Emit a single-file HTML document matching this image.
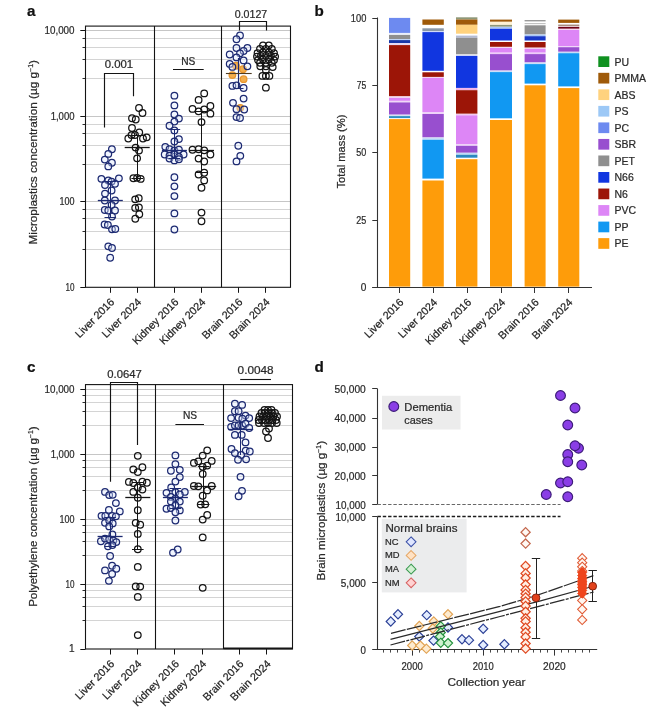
<!DOCTYPE html>
<html><head><meta charset="utf-8"><title>Figure</title>
<style>html,body{margin:0;padding:0;background:#fff}svg{display:block}text{font-family:"Liberation Sans", Arial, sans-serif}</style>
</head><body>
<svg width="660" height="721" viewBox="0 0 660 721">
<rect width="660" height="721" fill="#fff"/>
<g>
<line x1="85.50" y1="30.50" x2="290.50" y2="30.50" stroke="#c6c6c6" stroke-width="1" />
<line x1="85.50" y1="38.50" x2="290.50" y2="38.50" stroke="#d4d4d4" stroke-width="1" />
<line x1="85.50" y1="47.50" x2="290.50" y2="47.50" stroke="#d4d4d4" stroke-width="1" />
<line x1="85.50" y1="59.50" x2="290.50" y2="59.50" stroke="#d4d4d4" stroke-width="1" />
<line x1="85.50" y1="78.50" x2="290.50" y2="78.50" stroke="#d4d4d4" stroke-width="1" />
<line x1="85.50" y1="116.50" x2="290.50" y2="116.50" stroke="#c6c6c6" stroke-width="1" />
<line x1="85.50" y1="124.50" x2="290.50" y2="124.50" stroke="#d4d4d4" stroke-width="1" />
<line x1="85.50" y1="133.50" x2="290.50" y2="133.50" stroke="#d4d4d4" stroke-width="1" />
<line x1="85.50" y1="145.50" x2="290.50" y2="145.50" stroke="#d4d4d4" stroke-width="1" />
<line x1="85.50" y1="164.50" x2="290.50" y2="164.50" stroke="#d4d4d4" stroke-width="1" />
<line x1="85.50" y1="201.50" x2="290.50" y2="201.50" stroke="#c6c6c6" stroke-width="1" />
<line x1="85.50" y1="209.50" x2="290.50" y2="209.50" stroke="#d4d4d4" stroke-width="1" />
<line x1="85.50" y1="218.50" x2="290.50" y2="218.50" stroke="#d4d4d4" stroke-width="1" />
<line x1="85.50" y1="231.50" x2="290.50" y2="231.50" stroke="#d4d4d4" stroke-width="1" />
<line x1="85.50" y1="249.50" x2="290.50" y2="249.50" stroke="#d4d4d4" stroke-width="1" />
<rect x="85.5" y="26.1" width="205.0" height="261.2" fill="none" stroke="#141414" stroke-width="1.1"/>
<line x1="154.50" y1="26.10" x2="154.50" y2="287.30" stroke="#141414" stroke-width="1.1" />
<line x1="221.50" y1="26.10" x2="221.50" y2="287.30" stroke="#141414" stroke-width="1.1" />
<line x1="80.30" y1="30.50" x2="85.50" y2="30.50" stroke="#141414" stroke-width="1" />
<text x="74.50" y="33.70" font-size="10.0" text-anchor="end" fill="#2a2a2a" font-weight="normal" stroke="#2a2a2a" stroke-width="0.22" textLength="30" lengthAdjust="spacingAndGlyphs" >10,000</text>
<line x1="82.50" y1="38.50" x2="85.50" y2="38.50" stroke="#141414" stroke-width="0.9" />
<line x1="82.50" y1="47.50" x2="85.50" y2="47.50" stroke="#141414" stroke-width="0.9" />
<line x1="82.50" y1="59.50" x2="85.50" y2="59.50" stroke="#141414" stroke-width="0.9" />
<line x1="82.50" y1="78.50" x2="85.50" y2="78.50" stroke="#141414" stroke-width="0.9" />
<line x1="80.30" y1="116.50" x2="85.50" y2="116.50" stroke="#141414" stroke-width="1" />
<text x="74.50" y="119.60" font-size="10.0" text-anchor="end" fill="#2a2a2a" font-weight="normal" stroke="#2a2a2a" stroke-width="0.22" textLength="23.8" lengthAdjust="spacingAndGlyphs" >1,000</text>
<line x1="82.50" y1="124.50" x2="85.50" y2="124.50" stroke="#141414" stroke-width="0.9" />
<line x1="82.50" y1="133.50" x2="85.50" y2="133.50" stroke="#141414" stroke-width="0.9" />
<line x1="82.50" y1="145.50" x2="85.50" y2="145.50" stroke="#141414" stroke-width="0.9" />
<line x1="82.50" y1="164.50" x2="85.50" y2="164.50" stroke="#141414" stroke-width="0.9" />
<line x1="80.30" y1="201.50" x2="85.50" y2="201.50" stroke="#141414" stroke-width="1" />
<text x="74.50" y="205.20" font-size="10.0" text-anchor="end" fill="#2a2a2a" font-weight="normal" stroke="#2a2a2a" stroke-width="0.22" textLength="15" lengthAdjust="spacingAndGlyphs" >100</text>
<line x1="82.50" y1="209.50" x2="85.50" y2="209.50" stroke="#141414" stroke-width="0.9" />
<line x1="82.50" y1="218.50" x2="85.50" y2="218.50" stroke="#141414" stroke-width="0.9" />
<line x1="82.50" y1="231.50" x2="85.50" y2="231.50" stroke="#141414" stroke-width="0.9" />
<line x1="82.50" y1="249.50" x2="85.50" y2="249.50" stroke="#141414" stroke-width="0.9" />
<line x1="80.30" y1="287.50" x2="85.50" y2="287.50" stroke="#141414" stroke-width="1" />
<text x="74.50" y="290.60" font-size="10.0" text-anchor="end" fill="#2a2a2a" font-weight="normal" stroke="#2a2a2a" stroke-width="0.22" textLength="9" lengthAdjust="spacingAndGlyphs" >10</text>
<line x1="110.50" y1="287.30" x2="110.50" y2="292.80" stroke="#141414" stroke-width="1" />
<text x="115.10" y="302.80" font-size="10.8" text-anchor="end" fill="#1e1e1e" font-weight="normal" stroke="#1e1e1e" stroke-width="0.22" transform="rotate(-45 115.10 302.80)" >Liver 2016</text>
<line x1="137.50" y1="287.30" x2="137.50" y2="292.80" stroke="#141414" stroke-width="1" />
<text x="142.00" y="302.80" font-size="10.8" text-anchor="end" fill="#1e1e1e" font-weight="normal" stroke="#1e1e1e" stroke-width="0.22" transform="rotate(-45 142.00 302.80)" >Liver 2024</text>
<line x1="174.50" y1="287.30" x2="174.50" y2="292.80" stroke="#141414" stroke-width="1" />
<text x="179.20" y="302.80" font-size="10.8" text-anchor="end" fill="#1e1e1e" font-weight="normal" stroke="#1e1e1e" stroke-width="0.22" transform="rotate(-45 179.20 302.80)" >Kidney 2016</text>
<line x1="201.50" y1="287.30" x2="201.50" y2="292.80" stroke="#141414" stroke-width="1" />
<text x="206.30" y="302.80" font-size="10.8" text-anchor="end" fill="#1e1e1e" font-weight="normal" stroke="#1e1e1e" stroke-width="0.22" transform="rotate(-45 206.30 302.80)" >Kidney 2024</text>
<line x1="238.50" y1="287.30" x2="238.50" y2="292.80" stroke="#141414" stroke-width="1" />
<text x="243.20" y="302.80" font-size="10.8" text-anchor="end" fill="#1e1e1e" font-weight="normal" stroke="#1e1e1e" stroke-width="0.22" transform="rotate(-45 243.20 302.80)" >Brain 2016</text>
<line x1="265.50" y1="287.30" x2="265.50" y2="292.80" stroke="#141414" stroke-width="1" />
<text x="270.40" y="302.80" font-size="10.8" text-anchor="end" fill="#1e1e1e" font-weight="normal" stroke="#1e1e1e" stroke-width="0.22" transform="rotate(-45 270.40 302.80)" >Brain 2024</text>
<text x="27.00" y="15.50" font-size="15.2" text-anchor="start" fill="#111" font-weight="bold" stroke="#111" stroke-width="0.22" >a</text>
<text x="37.00" y="152.20" font-size="11" text-anchor="middle" fill="#2a2a2a" font-weight="normal" stroke="#2a2a2a" stroke-width="0.22" transform="rotate(-90 37.00 152.20)" textLength="184.5" lengthAdjust="spacingAndGlyphs" >Microplastics concentration (µg g<tspan font-size="6.5" dy="-3.6">−1</tspan><tspan dy="3.6">)</tspan></text>
<text x="118.90" y="68.30" font-size="10.2" text-anchor="middle" fill="#2a2a2a" font-weight="normal" stroke="#2a2a2a" stroke-width="0.22" textLength="28.5" lengthAdjust="spacingAndGlyphs" >0.001</text>
<path d="M104.5 127.5V73.5H133.5V96.3" fill="none" stroke="#141414" stroke-width="1.15"/>
<text x="188.30" y="64.50" font-size="10.2" text-anchor="middle" fill="#2a2a2a" font-weight="normal" stroke="#2a2a2a" stroke-width="0.22" >NS</text>
<line x1="173.00" y1="69.50" x2="203.70" y2="69.50" stroke="#141414" stroke-width="1" />
<text x="251.00" y="17.50" font-size="10.2" text-anchor="middle" fill="#2a2a2a" font-weight="normal" stroke="#2a2a2a" stroke-width="0.22" textLength="32.5" lengthAdjust="spacingAndGlyphs" >0.0127</text>
<path d="M239.5 30.6V21.5H266.5V30.6" fill="none" stroke="#141414" stroke-width="1.15"/>
<circle cx="111.90" cy="149.20" r="3.3" fill="#dfe8ff" fill-opacity="0.4" stroke="#1d2a72" stroke-width="1.25"/>
<circle cx="108.30" cy="153.90" r="3.3" fill="#dfe8ff" fill-opacity="0.4" stroke="#1d2a72" stroke-width="1.25"/>
<circle cx="104.80" cy="159.60" r="3.3" fill="#dfe8ff" fill-opacity="0.4" stroke="#1d2a72" stroke-width="1.25"/>
<circle cx="111.90" cy="162.70" r="3.3" fill="#dfe8ff" fill-opacity="0.4" stroke="#1d2a72" stroke-width="1.25"/>
<circle cx="108.30" cy="166.40" r="3.3" fill="#dfe8ff" fill-opacity="0.4" stroke="#1d2a72" stroke-width="1.25"/>
<circle cx="101.40" cy="178.80" r="3.3" fill="#dfe8ff" fill-opacity="0.4" stroke="#1d2a72" stroke-width="1.25"/>
<circle cx="118.90" cy="178.30" r="3.3" fill="#dfe8ff" fill-opacity="0.4" stroke="#1d2a72" stroke-width="1.25"/>
<circle cx="108.30" cy="180.50" r="3.3" fill="#dfe8ff" fill-opacity="0.4" stroke="#1d2a72" stroke-width="1.25"/>
<circle cx="111.60" cy="181.60" r="3.3" fill="#dfe8ff" fill-opacity="0.4" stroke="#1d2a72" stroke-width="1.25"/>
<circle cx="115.00" cy="183.80" r="3.3" fill="#dfe8ff" fill-opacity="0.4" stroke="#1d2a72" stroke-width="1.25"/>
<circle cx="105.00" cy="185.00" r="3.3" fill="#dfe8ff" fill-opacity="0.4" stroke="#1d2a72" stroke-width="1.25"/>
<circle cx="111.60" cy="190.50" r="3.3" fill="#dfe8ff" fill-opacity="0.4" stroke="#1d2a72" stroke-width="1.25"/>
<circle cx="105.00" cy="193.60" r="3.3" fill="#dfe8ff" fill-opacity="0.4" stroke="#1d2a72" stroke-width="1.25"/>
<circle cx="104.80" cy="200.50" r="3.3" fill="#dfe8ff" fill-opacity="0.4" stroke="#1d2a72" stroke-width="1.25"/>
<circle cx="115.00" cy="200.50" r="3.3" fill="#dfe8ff" fill-opacity="0.4" stroke="#1d2a72" stroke-width="1.25"/>
<circle cx="111.60" cy="205.00" r="3.3" fill="#dfe8ff" fill-opacity="0.4" stroke="#1d2a72" stroke-width="1.25"/>
<circle cx="104.80" cy="210.00" r="3.3" fill="#dfe8ff" fill-opacity="0.4" stroke="#1d2a72" stroke-width="1.25"/>
<circle cx="115.00" cy="210.50" r="3.3" fill="#dfe8ff" fill-opacity="0.4" stroke="#1d2a72" stroke-width="1.25"/>
<circle cx="108.30" cy="210.50" r="3.3" fill="#dfe8ff" fill-opacity="0.4" stroke="#1d2a72" stroke-width="1.25"/>
<circle cx="112.00" cy="216.50" r="3.3" fill="#dfe8ff" fill-opacity="0.4" stroke="#1d2a72" stroke-width="1.25"/>
<circle cx="104.60" cy="224.50" r="3.3" fill="#dfe8ff" fill-opacity="0.4" stroke="#1d2a72" stroke-width="1.25"/>
<circle cx="107.90" cy="225.00" r="3.3" fill="#dfe8ff" fill-opacity="0.4" stroke="#1d2a72" stroke-width="1.25"/>
<circle cx="112.00" cy="229.30" r="3.3" fill="#dfe8ff" fill-opacity="0.4" stroke="#1d2a72" stroke-width="1.25"/>
<circle cx="115.30" cy="229.00" r="3.3" fill="#dfe8ff" fill-opacity="0.4" stroke="#1d2a72" stroke-width="1.25"/>
<circle cx="108.30" cy="246.30" r="3.3" fill="#dfe8ff" fill-opacity="0.4" stroke="#1d2a72" stroke-width="1.25"/>
<circle cx="112.00" cy="248.00" r="3.3" fill="#dfe8ff" fill-opacity="0.4" stroke="#1d2a72" stroke-width="1.25"/>
<circle cx="110.20" cy="257.70" r="3.3" fill="#dfe8ff" fill-opacity="0.4" stroke="#1d2a72" stroke-width="1.25"/>
<line x1="110.50" y1="181.30" x2="110.50" y2="217.50" stroke="#1d2a72" stroke-width="1" />
<line x1="104.50" y1="181.50" x2="116.10" y2="181.50" stroke="#1d2a72" stroke-width="1" />
<line x1="104.50" y1="217.50" x2="116.10" y2="217.50" stroke="#1d2a72" stroke-width="1" />
<line x1="97.80" y1="200.50" x2="122.80" y2="200.50" stroke="#1d2a72" stroke-width="1.3" />
<circle cx="139.00" cy="108.00" r="3.3" fill="none" stroke="#141414" stroke-width="1.25"/>
<circle cx="142.50" cy="113.00" r="3.3" fill="none" stroke="#141414" stroke-width="1.25"/>
<circle cx="132.00" cy="118.25" r="3.3" fill="none" stroke="#141414" stroke-width="1.25"/>
<circle cx="135.75" cy="119.50" r="3.3" fill="none" stroke="#141414" stroke-width="1.25"/>
<circle cx="132.00" cy="128.00" r="3.3" fill="none" stroke="#141414" stroke-width="1.25"/>
<circle cx="139.25" cy="132.50" r="3.3" fill="none" stroke="#141414" stroke-width="1.25"/>
<circle cx="135.00" cy="135.00" r="3.3" fill="none" stroke="#141414" stroke-width="1.25"/>
<circle cx="131.50" cy="135.10" r="3.3" fill="none" stroke="#141414" stroke-width="1.25"/>
<circle cx="128.30" cy="138.50" r="3.3" fill="none" stroke="#141414" stroke-width="1.25"/>
<circle cx="143.00" cy="138.50" r="3.3" fill="none" stroke="#141414" stroke-width="1.25"/>
<circle cx="146.70" cy="137.30" r="3.3" fill="none" stroke="#141414" stroke-width="1.25"/>
<circle cx="135.60" cy="147.60" r="3.3" fill="none" stroke="#141414" stroke-width="1.25"/>
<circle cx="139.00" cy="150.60" r="3.3" fill="none" stroke="#141414" stroke-width="1.25"/>
<circle cx="137.10" cy="158.30" r="3.3" fill="none" stroke="#141414" stroke-width="1.25"/>
<circle cx="133.40" cy="178.20" r="3.3" fill="none" stroke="#141414" stroke-width="1.25"/>
<circle cx="137.10" cy="177.80" r="3.3" fill="none" stroke="#141414" stroke-width="1.25"/>
<circle cx="140.70" cy="178.90" r="3.3" fill="none" stroke="#141414" stroke-width="1.25"/>
<circle cx="138.75" cy="198.20" r="3.3" fill="none" stroke="#141414" stroke-width="1.25"/>
<circle cx="135.20" cy="199.30" r="3.3" fill="none" stroke="#141414" stroke-width="1.25"/>
<circle cx="138.90" cy="207.30" r="3.3" fill="none" stroke="#141414" stroke-width="1.25"/>
<circle cx="135.20" cy="207.90" r="3.3" fill="none" stroke="#141414" stroke-width="1.25"/>
<circle cx="139.30" cy="214.20" r="3.3" fill="none" stroke="#141414" stroke-width="1.25"/>
<circle cx="135.30" cy="218.75" r="3.3" fill="none" stroke="#141414" stroke-width="1.25"/>
<line x1="137.50" y1="135.00" x2="137.50" y2="178.30" stroke="#141414" stroke-width="1" />
<line x1="131.40" y1="135.50" x2="143.00" y2="135.50" stroke="#141414" stroke-width="1" />
<line x1="131.40" y1="178.50" x2="143.00" y2="178.50" stroke="#141414" stroke-width="1" />
<line x1="124.70" y1="147.50" x2="149.70" y2="147.50" stroke="#141414" stroke-width="1.3" />
<circle cx="174.40" cy="95.70" r="3.3" fill="#dfe8ff" fill-opacity="0.4" stroke="#1d2a72" stroke-width="1.25"/>
<circle cx="174.40" cy="105.40" r="3.3" fill="#dfe8ff" fill-opacity="0.4" stroke="#1d2a72" stroke-width="1.25"/>
<circle cx="174.40" cy="114.50" r="3.3" fill="#dfe8ff" fill-opacity="0.4" stroke="#1d2a72" stroke-width="1.25"/>
<circle cx="178.90" cy="118.60" r="3.3" fill="#dfe8ff" fill-opacity="0.4" stroke="#1d2a72" stroke-width="1.25"/>
<circle cx="174.40" cy="121.60" r="3.3" fill="#dfe8ff" fill-opacity="0.4" stroke="#1d2a72" stroke-width="1.25"/>
<circle cx="169.50" cy="125.70" r="3.3" fill="#dfe8ff" fill-opacity="0.4" stroke="#1d2a72" stroke-width="1.25"/>
<circle cx="174.40" cy="130.40" r="3.3" fill="#dfe8ff" fill-opacity="0.4" stroke="#1d2a72" stroke-width="1.25"/>
<circle cx="178.90" cy="139.10" r="3.3" fill="#dfe8ff" fill-opacity="0.4" stroke="#1d2a72" stroke-width="1.25"/>
<circle cx="174.40" cy="141.50" r="3.3" fill="#dfe8ff" fill-opacity="0.4" stroke="#1d2a72" stroke-width="1.25"/>
<circle cx="165.30" cy="146.80" r="3.3" fill="#dfe8ff" fill-opacity="0.4" stroke="#1d2a72" stroke-width="1.25"/>
<circle cx="169.50" cy="149.20" r="3.3" fill="#dfe8ff" fill-opacity="0.4" stroke="#1d2a72" stroke-width="1.25"/>
<circle cx="174.40" cy="150.30" r="3.3" fill="#dfe8ff" fill-opacity="0.4" stroke="#1d2a72" stroke-width="1.25"/>
<circle cx="178.90" cy="149.70" r="3.3" fill="#dfe8ff" fill-opacity="0.4" stroke="#1d2a72" stroke-width="1.25"/>
<circle cx="183.60" cy="154.50" r="3.3" fill="#dfe8ff" fill-opacity="0.4" stroke="#1d2a72" stroke-width="1.25"/>
<circle cx="164.70" cy="154.50" r="3.3" fill="#dfe8ff" fill-opacity="0.4" stroke="#1d2a72" stroke-width="1.25"/>
<circle cx="169.50" cy="155.60" r="3.3" fill="#dfe8ff" fill-opacity="0.4" stroke="#1d2a72" stroke-width="1.25"/>
<circle cx="174.40" cy="154.50" r="3.3" fill="#dfe8ff" fill-opacity="0.4" stroke="#1d2a72" stroke-width="1.25"/>
<circle cx="178.90" cy="156.80" r="3.3" fill="#dfe8ff" fill-opacity="0.4" stroke="#1d2a72" stroke-width="1.25"/>
<circle cx="169.50" cy="158.60" r="3.3" fill="#dfe8ff" fill-opacity="0.4" stroke="#1d2a72" stroke-width="1.25"/>
<circle cx="174.40" cy="160.40" r="3.3" fill="#dfe8ff" fill-opacity="0.4" stroke="#1d2a72" stroke-width="1.25"/>
<circle cx="178.90" cy="159.20" r="3.3" fill="#dfe8ff" fill-opacity="0.4" stroke="#1d2a72" stroke-width="1.25"/>
<circle cx="174.40" cy="177.20" r="3.3" fill="#dfe8ff" fill-opacity="0.4" stroke="#1d2a72" stroke-width="1.25"/>
<circle cx="174.40" cy="186.30" r="3.3" fill="#dfe8ff" fill-opacity="0.4" stroke="#1d2a72" stroke-width="1.25"/>
<circle cx="174.40" cy="196.10" r="3.3" fill="#dfe8ff" fill-opacity="0.4" stroke="#1d2a72" stroke-width="1.25"/>
<circle cx="174.40" cy="213.40" r="3.3" fill="#dfe8ff" fill-opacity="0.4" stroke="#1d2a72" stroke-width="1.25"/>
<circle cx="174.40" cy="229.50" r="3.3" fill="#dfe8ff" fill-opacity="0.4" stroke="#1d2a72" stroke-width="1.25"/>
<line x1="174.50" y1="129.80" x2="174.50" y2="158.50" stroke="#1d2a72" stroke-width="1" />
<line x1="168.60" y1="129.50" x2="180.20" y2="129.50" stroke="#1d2a72" stroke-width="1" />
<line x1="168.60" y1="158.50" x2="180.20" y2="158.50" stroke="#1d2a72" stroke-width="1" />
<line x1="161.90" y1="150.50" x2="186.90" y2="150.50" stroke="#1d2a72" stroke-width="1.3" />
<circle cx="204.20" cy="93.40" r="3.3" fill="none" stroke="#141414" stroke-width="1.25"/>
<circle cx="198.60" cy="99.90" r="3.3" fill="none" stroke="#141414" stroke-width="1.25"/>
<circle cx="210.40" cy="106.00" r="3.3" fill="none" stroke="#141414" stroke-width="1.25"/>
<circle cx="192.50" cy="108.90" r="3.3" fill="none" stroke="#141414" stroke-width="1.25"/>
<circle cx="198.60" cy="111.30" r="3.3" fill="none" stroke="#141414" stroke-width="1.25"/>
<circle cx="204.20" cy="109.50" r="3.3" fill="none" stroke="#141414" stroke-width="1.25"/>
<circle cx="210.40" cy="113.70" r="3.3" fill="none" stroke="#141414" stroke-width="1.25"/>
<circle cx="201.50" cy="122.10" r="3.3" fill="none" stroke="#141414" stroke-width="1.25"/>
<circle cx="192.50" cy="149.70" r="3.3" fill="none" stroke="#141414" stroke-width="1.25"/>
<circle cx="198.60" cy="149.20" r="3.3" fill="none" stroke="#141414" stroke-width="1.25"/>
<circle cx="204.20" cy="150.30" r="3.3" fill="none" stroke="#141414" stroke-width="1.25"/>
<circle cx="210.40" cy="154.50" r="3.3" fill="none" stroke="#141414" stroke-width="1.25"/>
<circle cx="198.60" cy="158.60" r="3.3" fill="none" stroke="#141414" stroke-width="1.25"/>
<circle cx="204.20" cy="161.50" r="3.3" fill="none" stroke="#141414" stroke-width="1.25"/>
<circle cx="204.20" cy="172.70" r="3.3" fill="none" stroke="#141414" stroke-width="1.25"/>
<circle cx="198.60" cy="174.50" r="3.3" fill="none" stroke="#141414" stroke-width="1.25"/>
<circle cx="204.20" cy="180.40" r="3.3" fill="none" stroke="#141414" stroke-width="1.25"/>
<circle cx="201.50" cy="187.70" r="3.3" fill="none" stroke="#141414" stroke-width="1.25"/>
<circle cx="201.50" cy="212.60" r="3.3" fill="none" stroke="#141414" stroke-width="1.25"/>
<circle cx="201.50" cy="221.20" r="3.3" fill="none" stroke="#141414" stroke-width="1.25"/>
<line x1="201.50" y1="111.30" x2="201.50" y2="172.70" stroke="#141414" stroke-width="1" />
<line x1="195.70" y1="111.50" x2="207.30" y2="111.50" stroke="#141414" stroke-width="1" />
<line x1="195.70" y1="172.50" x2="207.30" y2="172.50" stroke="#141414" stroke-width="1" />
<line x1="189.00" y1="150.50" x2="214.00" y2="150.50" stroke="#141414" stroke-width="1.3" />
<circle cx="235.90" cy="65.70" r="3.3" fill="#f4ae4c" stroke="#e8962e" stroke-width="1.25"/>
<circle cx="243.00" cy="69.20" r="3.3" fill="#f4ae4c" stroke="#e8962e" stroke-width="1.25"/>
<circle cx="232.40" cy="75.10" r="3.3" fill="#f4ae4c" stroke="#e8962e" stroke-width="1.25"/>
<circle cx="243.60" cy="79.20" r="3.3" fill="#f4ae4c" stroke="#e8962e" stroke-width="1.25"/>
<circle cx="240.30" cy="107.80" r="3.3" fill="#f4ae4c" stroke="#e8962e" stroke-width="1.25"/>
<circle cx="240.00" cy="35.40" r="3.3" fill="#dfe8ff" fill-opacity="0.4" stroke="#1d2a72" stroke-width="1.25"/>
<circle cx="236.50" cy="39.20" r="3.3" fill="#dfe8ff" fill-opacity="0.4" stroke="#1d2a72" stroke-width="1.25"/>
<circle cx="236.50" cy="48.00" r="3.3" fill="#dfe8ff" fill-opacity="0.4" stroke="#1d2a72" stroke-width="1.25"/>
<circle cx="247.40" cy="48.00" r="3.3" fill="#dfe8ff" fill-opacity="0.4" stroke="#1d2a72" stroke-width="1.25"/>
<circle cx="243.60" cy="51.00" r="3.3" fill="#dfe8ff" fill-opacity="0.4" stroke="#1d2a72" stroke-width="1.25"/>
<circle cx="229.70" cy="54.50" r="3.3" fill="#dfe8ff" fill-opacity="0.4" stroke="#1d2a72" stroke-width="1.25"/>
<circle cx="240.00" cy="53.30" r="3.3" fill="#dfe8ff" fill-opacity="0.4" stroke="#1d2a72" stroke-width="1.25"/>
<circle cx="236.50" cy="57.40" r="3.3" fill="#dfe8ff" fill-opacity="0.4" stroke="#1d2a72" stroke-width="1.25"/>
<circle cx="243.60" cy="60.40" r="3.3" fill="#dfe8ff" fill-opacity="0.4" stroke="#1d2a72" stroke-width="1.25"/>
<circle cx="229.70" cy="63.90" r="3.3" fill="#dfe8ff" fill-opacity="0.4" stroke="#1d2a72" stroke-width="1.25"/>
<circle cx="247.40" cy="66.30" r="3.3" fill="#dfe8ff" fill-opacity="0.4" stroke="#1d2a72" stroke-width="1.25"/>
<circle cx="232.40" cy="66.90" r="3.3" fill="#dfe8ff" fill-opacity="0.4" stroke="#1d2a72" stroke-width="1.25"/>
<circle cx="232.40" cy="85.90" r="3.3" fill="#dfe8ff" fill-opacity="0.4" stroke="#1d2a72" stroke-width="1.25"/>
<circle cx="236.50" cy="85.30" r="3.3" fill="#dfe8ff" fill-opacity="0.4" stroke="#1d2a72" stroke-width="1.25"/>
<circle cx="243.60" cy="88.00" r="3.3" fill="#dfe8ff" fill-opacity="0.4" stroke="#1d2a72" stroke-width="1.25"/>
<circle cx="243.60" cy="98.60" r="3.3" fill="#dfe8ff" fill-opacity="0.4" stroke="#1d2a72" stroke-width="1.25"/>
<circle cx="233.00" cy="102.80" r="3.3" fill="#dfe8ff" fill-opacity="0.4" stroke="#1d2a72" stroke-width="1.25"/>
<circle cx="236.50" cy="109.20" r="3.3" fill="#dfe8ff" fill-opacity="0.4" stroke="#1d2a72" stroke-width="1.25"/>
<circle cx="244.20" cy="109.50" r="3.3" fill="#dfe8ff" fill-opacity="0.4" stroke="#1d2a72" stroke-width="1.25"/>
<circle cx="236.50" cy="117.10" r="3.3" fill="#dfe8ff" fill-opacity="0.4" stroke="#1d2a72" stroke-width="1.25"/>
<circle cx="240.00" cy="118.00" r="3.3" fill="#dfe8ff" fill-opacity="0.4" stroke="#1d2a72" stroke-width="1.25"/>
<circle cx="238.30" cy="145.70" r="3.3" fill="#dfe8ff" fill-opacity="0.4" stroke="#1d2a72" stroke-width="1.25"/>
<circle cx="240.30" cy="155.80" r="3.3" fill="#dfe8ff" fill-opacity="0.4" stroke="#1d2a72" stroke-width="1.25"/>
<circle cx="236.50" cy="161.40" r="3.3" fill="#dfe8ff" fill-opacity="0.4" stroke="#1d2a72" stroke-width="1.25"/>
<line x1="238.50" y1="58.00" x2="238.50" y2="88.00" stroke="#1d2a72" stroke-width="1.2" />
<line x1="225.90" y1="73.50" x2="251.70" y2="73.50" stroke="#4e3b22" stroke-width="1.1" />
<line x1="234.00" y1="88.50" x2="243.50" y2="88.50" stroke="#1d2a72" stroke-width="1" />
<circle cx="263.00" cy="45.30" r="3.3" fill="none" stroke="#141414" stroke-width="1.25"/>
<circle cx="268.80" cy="45.30" r="3.3" fill="none" stroke="#141414" stroke-width="1.25"/>
<circle cx="260.00" cy="48.80" r="3.3" fill="none" stroke="#141414" stroke-width="1.25"/>
<circle cx="265.90" cy="48.80" r="3.3" fill="none" stroke="#141414" stroke-width="1.25"/>
<circle cx="271.80" cy="48.80" r="3.3" fill="none" stroke="#141414" stroke-width="1.25"/>
<circle cx="257.50" cy="53.10" r="3.3" fill="none" stroke="#141414" stroke-width="1.25"/>
<circle cx="263.00" cy="52.30" r="3.3" fill="none" stroke="#141414" stroke-width="1.25"/>
<circle cx="268.80" cy="52.30" r="3.3" fill="none" stroke="#141414" stroke-width="1.25"/>
<circle cx="274.00" cy="53.10" r="3.3" fill="none" stroke="#141414" stroke-width="1.25"/>
<circle cx="257.00" cy="56.60" r="3.3" fill="none" stroke="#141414" stroke-width="1.25"/>
<circle cx="260.90" cy="55.80" r="3.3" fill="none" stroke="#141414" stroke-width="1.25"/>
<circle cx="265.90" cy="55.80" r="3.3" fill="none" stroke="#141414" stroke-width="1.25"/>
<circle cx="270.90" cy="55.80" r="3.3" fill="none" stroke="#141414" stroke-width="1.25"/>
<circle cx="275.10" cy="56.60" r="3.3" fill="none" stroke="#141414" stroke-width="1.25"/>
<circle cx="258.00" cy="60.10" r="3.3" fill="none" stroke="#141414" stroke-width="1.25"/>
<circle cx="263.00" cy="59.30" r="3.3" fill="none" stroke="#141414" stroke-width="1.25"/>
<circle cx="268.80" cy="59.30" r="3.3" fill="none" stroke="#141414" stroke-width="1.25"/>
<circle cx="274.00" cy="60.10" r="3.3" fill="none" stroke="#141414" stroke-width="1.25"/>
<circle cx="260.00" cy="62.80" r="3.3" fill="none" stroke="#141414" stroke-width="1.25"/>
<circle cx="265.90" cy="62.80" r="3.3" fill="none" stroke="#141414" stroke-width="1.25"/>
<circle cx="271.80" cy="62.80" r="3.3" fill="none" stroke="#141414" stroke-width="1.25"/>
<circle cx="260.30" cy="66.30" r="3.3" fill="none" stroke="#141414" stroke-width="1.25"/>
<circle cx="265.90" cy="66.30" r="3.3" fill="none" stroke="#141414" stroke-width="1.25"/>
<circle cx="272.70" cy="67.10" r="3.3" fill="none" stroke="#141414" stroke-width="1.25"/>
<circle cx="265.90" cy="70.00" r="3.3" fill="none" stroke="#141414" stroke-width="1.25"/>
<circle cx="262.40" cy="75.90" r="3.3" fill="none" stroke="#141414" stroke-width="1.25"/>
<circle cx="265.90" cy="75.90" r="3.3" fill="none" stroke="#141414" stroke-width="1.25"/>
<circle cx="269.40" cy="75.90" r="3.3" fill="none" stroke="#141414" stroke-width="1.25"/>
<circle cx="265.90" cy="87.70" r="3.3" fill="none" stroke="#141414" stroke-width="1.25"/>
</g>
<g>
<line x1="85.50" y1="389.50" x2="292.50" y2="389.50" stroke="#c6c6c6" stroke-width="1" />
<line x1="85.50" y1="395.50" x2="292.50" y2="395.50" stroke="#d4d4d4" stroke-width="1" />
<line x1="85.50" y1="402.50" x2="292.50" y2="402.50" stroke="#d4d4d4" stroke-width="1" />
<line x1="85.50" y1="411.50" x2="292.50" y2="411.50" stroke="#d4d4d4" stroke-width="1" />
<line x1="85.50" y1="425.50" x2="292.50" y2="425.50" stroke="#d4d4d4" stroke-width="1" />
<line x1="85.50" y1="454.50" x2="292.50" y2="454.50" stroke="#c6c6c6" stroke-width="1" />
<line x1="85.50" y1="460.50" x2="292.50" y2="460.50" stroke="#d4d4d4" stroke-width="1" />
<line x1="85.50" y1="467.50" x2="292.50" y2="467.50" stroke="#d4d4d4" stroke-width="1" />
<line x1="85.50" y1="476.50" x2="292.50" y2="476.50" stroke="#d4d4d4" stroke-width="1" />
<line x1="85.50" y1="490.50" x2="292.50" y2="490.50" stroke="#d4d4d4" stroke-width="1" />
<line x1="85.50" y1="519.50" x2="292.50" y2="519.50" stroke="#c6c6c6" stroke-width="1" />
<line x1="85.50" y1="525.50" x2="292.50" y2="525.50" stroke="#d4d4d4" stroke-width="1" />
<line x1="85.50" y1="532.50" x2="292.50" y2="532.50" stroke="#d4d4d4" stroke-width="1" />
<line x1="85.50" y1="541.50" x2="292.50" y2="541.50" stroke="#d4d4d4" stroke-width="1" />
<line x1="85.50" y1="555.50" x2="292.50" y2="555.50" stroke="#d4d4d4" stroke-width="1" />
<line x1="85.50" y1="584.50" x2="292.50" y2="584.50" stroke="#c6c6c6" stroke-width="1" />
<line x1="85.50" y1="590.50" x2="292.50" y2="590.50" stroke="#d4d4d4" stroke-width="1" />
<line x1="85.50" y1="597.50" x2="292.50" y2="597.50" stroke="#d4d4d4" stroke-width="1" />
<line x1="85.50" y1="606.50" x2="292.50" y2="606.50" stroke="#d4d4d4" stroke-width="1" />
<line x1="85.50" y1="620.50" x2="292.50" y2="620.50" stroke="#d4d4d4" stroke-width="1" />
<rect x="85.5" y="384.6" width="207.0" height="264.4" fill="none" stroke="#141414" stroke-width="1.1"/>
<line x1="155.50" y1="384.60" x2="155.50" y2="649.00" stroke="#141414" stroke-width="1.1" />
<line x1="223.50" y1="384.60" x2="223.50" y2="649.00" stroke="#141414" stroke-width="1.1" />
<line x1="80.30" y1="389.50" x2="85.50" y2="389.50" stroke="#141414" stroke-width="1" />
<text x="74.50" y="392.90" font-size="10.0" text-anchor="end" fill="#2a2a2a" font-weight="normal" stroke="#2a2a2a" stroke-width="0.22" textLength="30" lengthAdjust="spacingAndGlyphs" >10,000</text>
<line x1="82.50" y1="395.50" x2="85.50" y2="395.50" stroke="#141414" stroke-width="0.9" />
<line x1="82.50" y1="402.50" x2="85.50" y2="402.50" stroke="#141414" stroke-width="0.9" />
<line x1="82.50" y1="411.50" x2="85.50" y2="411.50" stroke="#141414" stroke-width="0.9" />
<line x1="82.50" y1="425.50" x2="85.50" y2="425.50" stroke="#141414" stroke-width="0.9" />
<line x1="80.30" y1="454.50" x2="85.50" y2="454.50" stroke="#141414" stroke-width="1" />
<text x="74.50" y="457.70" font-size="10.0" text-anchor="end" fill="#2a2a2a" font-weight="normal" stroke="#2a2a2a" stroke-width="0.22" textLength="23.8" lengthAdjust="spacingAndGlyphs" >1,000</text>
<line x1="82.50" y1="460.50" x2="85.50" y2="460.50" stroke="#141414" stroke-width="0.9" />
<line x1="82.50" y1="467.50" x2="85.50" y2="467.50" stroke="#141414" stroke-width="0.9" />
<line x1="82.50" y1="476.50" x2="85.50" y2="476.50" stroke="#141414" stroke-width="0.9" />
<line x1="82.50" y1="490.50" x2="85.50" y2="490.50" stroke="#141414" stroke-width="0.9" />
<line x1="80.30" y1="519.50" x2="85.50" y2="519.50" stroke="#141414" stroke-width="1" />
<text x="74.50" y="522.80" font-size="10.0" text-anchor="end" fill="#2a2a2a" font-weight="normal" stroke="#2a2a2a" stroke-width="0.22" textLength="15" lengthAdjust="spacingAndGlyphs" >100</text>
<line x1="82.50" y1="525.50" x2="85.50" y2="525.50" stroke="#141414" stroke-width="0.9" />
<line x1="82.50" y1="532.50" x2="85.50" y2="532.50" stroke="#141414" stroke-width="0.9" />
<line x1="82.50" y1="541.50" x2="85.50" y2="541.50" stroke="#141414" stroke-width="0.9" />
<line x1="82.50" y1="555.50" x2="85.50" y2="555.50" stroke="#141414" stroke-width="0.9" />
<line x1="80.30" y1="584.50" x2="85.50" y2="584.50" stroke="#141414" stroke-width="1" />
<text x="74.50" y="587.60" font-size="10.0" text-anchor="end" fill="#2a2a2a" font-weight="normal" stroke="#2a2a2a" stroke-width="0.22" textLength="9" lengthAdjust="spacingAndGlyphs" >10</text>
<line x1="82.50" y1="590.50" x2="85.50" y2="590.50" stroke="#141414" stroke-width="0.9" />
<line x1="82.50" y1="597.50" x2="85.50" y2="597.50" stroke="#141414" stroke-width="0.9" />
<line x1="82.50" y1="606.50" x2="85.50" y2="606.50" stroke="#141414" stroke-width="0.9" />
<line x1="82.50" y1="620.50" x2="85.50" y2="620.50" stroke="#141414" stroke-width="0.9" />
<line x1="80.30" y1="649.50" x2="85.50" y2="649.50" stroke="#141414" stroke-width="1" />
<text x="74.50" y="652.30" font-size="10.0" text-anchor="end" fill="#2a2a2a" font-weight="normal" stroke="#2a2a2a" stroke-width="0.22" >1</text>
<line x1="110.50" y1="649.00" x2="110.50" y2="654.50" stroke="#141414" stroke-width="1" />
<text x="115.10" y="664.50" font-size="10.8" text-anchor="end" fill="#1e1e1e" font-weight="normal" stroke="#1e1e1e" stroke-width="0.22" transform="rotate(-45 115.10 664.50)" >Liver 2016</text>
<line x1="137.50" y1="649.00" x2="137.50" y2="654.50" stroke="#141414" stroke-width="1" />
<text x="142.30" y="664.50" font-size="10.8" text-anchor="end" fill="#1e1e1e" font-weight="normal" stroke="#1e1e1e" stroke-width="0.22" transform="rotate(-45 142.30 664.50)" >Liver 2024</text>
<line x1="174.50" y1="649.00" x2="174.50" y2="654.50" stroke="#141414" stroke-width="1" />
<text x="179.70" y="664.50" font-size="10.8" text-anchor="end" fill="#1e1e1e" font-weight="normal" stroke="#1e1e1e" stroke-width="0.22" transform="rotate(-45 179.70 664.50)" >Kidney 2016</text>
<line x1="202.50" y1="649.00" x2="202.50" y2="654.50" stroke="#141414" stroke-width="1" />
<text x="207.10" y="664.50" font-size="10.8" text-anchor="end" fill="#1e1e1e" font-weight="normal" stroke="#1e1e1e" stroke-width="0.22" transform="rotate(-45 207.10 664.50)" >Kidney 2024</text>
<line x1="239.50" y1="649.00" x2="239.50" y2="654.50" stroke="#141414" stroke-width="1" />
<text x="244.20" y="664.50" font-size="10.8" text-anchor="end" fill="#1e1e1e" font-weight="normal" stroke="#1e1e1e" stroke-width="0.22" transform="rotate(-45 244.20 664.50)" >Brain 2016</text>
<line x1="266.50" y1="649.00" x2="266.50" y2="654.50" stroke="#141414" stroke-width="1" />
<text x="271.40" y="664.50" font-size="10.8" text-anchor="end" fill="#1e1e1e" font-weight="normal" stroke="#1e1e1e" stroke-width="0.22" transform="rotate(-45 271.40 664.50)" >Brain 2024</text>
<line x1="223.40" y1="648.40" x2="292.50" y2="648.40" stroke="#141414" stroke-width="1.8" />
<text x="27.00" y="372.00" font-size="15.2" text-anchor="start" fill="#111" font-weight="bold" stroke="#111" stroke-width="0.22" >c</text>
<text x="37.00" y="516.60" font-size="11" text-anchor="middle" fill="#2a2a2a" font-weight="normal" stroke="#2a2a2a" stroke-width="0.22" transform="rotate(-90 37.00 516.60)" textLength="180.5" lengthAdjust="spacingAndGlyphs" >Polyethylene concentration (µg g<tspan font-size="6.5" dy="-3.6">−1</tspan><tspan dy="3.6">)</tspan></text>
<text x="124.50" y="377.80" font-size="10.2" text-anchor="middle" fill="#2a2a2a" font-weight="normal" stroke="#2a2a2a" stroke-width="0.22" textLength="34.5" lengthAdjust="spacingAndGlyphs" >0.0647</text>
<path d="M110.5 481.8V382.5H137.5V445" fill="none" stroke="#141414" stroke-width="1.15"/>
<text x="190.00" y="419.20" font-size="10.2" text-anchor="middle" fill="#2a2a2a" font-weight="normal" stroke="#2a2a2a" stroke-width="0.22" >NS</text>
<line x1="175.40" y1="424.50" x2="204.00" y2="424.50" stroke="#141414" stroke-width="1" />
<text x="255.60" y="373.70" font-size="10.2" text-anchor="middle" fill="#2a2a2a" font-weight="normal" stroke="#2a2a2a" stroke-width="0.22" textLength="36" lengthAdjust="spacingAndGlyphs" >0.0048</text>
<line x1="240.20" y1="379.50" x2="271.00" y2="379.50" stroke="#141414" stroke-width="1.1" />
<circle cx="105.00" cy="491.90" r="3.3" fill="#dfe8ff" fill-opacity="0.4" stroke="#1d2a72" stroke-width="1.25"/>
<circle cx="109.20" cy="495.10" r="3.3" fill="#dfe8ff" fill-opacity="0.4" stroke="#1d2a72" stroke-width="1.25"/>
<circle cx="112.70" cy="494.80" r="3.3" fill="#dfe8ff" fill-opacity="0.4" stroke="#1d2a72" stroke-width="1.25"/>
<circle cx="115.90" cy="503.10" r="3.3" fill="#dfe8ff" fill-opacity="0.4" stroke="#1d2a72" stroke-width="1.25"/>
<circle cx="108.90" cy="509.90" r="3.3" fill="#dfe8ff" fill-opacity="0.4" stroke="#1d2a72" stroke-width="1.25"/>
<circle cx="119.80" cy="511.40" r="3.3" fill="#dfe8ff" fill-opacity="0.4" stroke="#1d2a72" stroke-width="1.25"/>
<circle cx="101.50" cy="515.80" r="3.3" fill="#dfe8ff" fill-opacity="0.4" stroke="#1d2a72" stroke-width="1.25"/>
<circle cx="105.30" cy="515.80" r="3.3" fill="#dfe8ff" fill-opacity="0.4" stroke="#1d2a72" stroke-width="1.25"/>
<circle cx="112.10" cy="515.80" r="3.3" fill="#dfe8ff" fill-opacity="0.4" stroke="#1d2a72" stroke-width="1.25"/>
<circle cx="115.90" cy="516.30" r="3.3" fill="#dfe8ff" fill-opacity="0.4" stroke="#1d2a72" stroke-width="1.25"/>
<circle cx="105.00" cy="522.80" r="3.3" fill="#dfe8ff" fill-opacity="0.4" stroke="#1d2a72" stroke-width="1.25"/>
<circle cx="109.20" cy="520.50" r="3.3" fill="#dfe8ff" fill-opacity="0.4" stroke="#1d2a72" stroke-width="1.25"/>
<circle cx="112.70" cy="523.40" r="3.3" fill="#dfe8ff" fill-opacity="0.4" stroke="#1d2a72" stroke-width="1.25"/>
<circle cx="109.20" cy="526.40" r="3.3" fill="#dfe8ff" fill-opacity="0.4" stroke="#1d2a72" stroke-width="1.25"/>
<circle cx="112.40" cy="534.50" r="3.3" fill="#dfe8ff" fill-opacity="0.4" stroke="#1d2a72" stroke-width="1.25"/>
<circle cx="100.90" cy="541.20" r="3.3" fill="#dfe8ff" fill-opacity="0.4" stroke="#1d2a72" stroke-width="1.25"/>
<circle cx="105.00" cy="538.60" r="3.3" fill="#dfe8ff" fill-opacity="0.4" stroke="#1d2a72" stroke-width="1.25"/>
<circle cx="109.20" cy="539.20" r="3.3" fill="#dfe8ff" fill-opacity="0.4" stroke="#1d2a72" stroke-width="1.25"/>
<circle cx="113.30" cy="540.40" r="3.3" fill="#dfe8ff" fill-opacity="0.4" stroke="#1d2a72" stroke-width="1.25"/>
<circle cx="116.30" cy="542.10" r="3.3" fill="#dfe8ff" fill-opacity="0.4" stroke="#1d2a72" stroke-width="1.25"/>
<circle cx="108.00" cy="546.30" r="3.3" fill="#dfe8ff" fill-opacity="0.4" stroke="#1d2a72" stroke-width="1.25"/>
<circle cx="112.40" cy="545.10" r="3.3" fill="#dfe8ff" fill-opacity="0.4" stroke="#1d2a72" stroke-width="1.25"/>
<circle cx="110.10" cy="556.00" r="3.3" fill="#dfe8ff" fill-opacity="0.4" stroke="#1d2a72" stroke-width="1.25"/>
<circle cx="112.10" cy="565.70" r="3.3" fill="#dfe8ff" fill-opacity="0.4" stroke="#1d2a72" stroke-width="1.25"/>
<circle cx="116.30" cy="568.70" r="3.3" fill="#dfe8ff" fill-opacity="0.4" stroke="#1d2a72" stroke-width="1.25"/>
<circle cx="105.00" cy="570.40" r="3.3" fill="#dfe8ff" fill-opacity="0.4" stroke="#1d2a72" stroke-width="1.25"/>
<circle cx="112.10" cy="574.00" r="3.3" fill="#dfe8ff" fill-opacity="0.4" stroke="#1d2a72" stroke-width="1.25"/>
<circle cx="108.90" cy="580.80" r="3.3" fill="#dfe8ff" fill-opacity="0.4" stroke="#1d2a72" stroke-width="1.25"/>
<line x1="110.50" y1="517.00" x2="110.50" y2="546.00" stroke="#1d2a72" stroke-width="1" />
<line x1="104.30" y1="517.50" x2="115.90" y2="517.50" stroke="#1d2a72" stroke-width="1" />
<line x1="104.30" y1="546.50" x2="115.90" y2="546.50" stroke="#1d2a72" stroke-width="1" />
<line x1="97.60" y1="536.50" x2="122.60" y2="536.50" stroke="#1d2a72" stroke-width="1.3" />
<circle cx="137.80" cy="455.80" r="3.3" fill="none" stroke="#141414" stroke-width="1.25"/>
<circle cx="133.30" cy="469.50" r="3.3" fill="none" stroke="#141414" stroke-width="1.25"/>
<circle cx="142.40" cy="467.20" r="3.3" fill="none" stroke="#141414" stroke-width="1.25"/>
<circle cx="137.80" cy="472.10" r="3.3" fill="none" stroke="#141414" stroke-width="1.25"/>
<circle cx="128.90" cy="481.90" r="3.3" fill="none" stroke="#141414" stroke-width="1.25"/>
<circle cx="133.30" cy="483.00" r="3.3" fill="none" stroke="#141414" stroke-width="1.25"/>
<circle cx="142.40" cy="481.60" r="3.3" fill="none" stroke="#141414" stroke-width="1.25"/>
<circle cx="146.90" cy="482.70" r="3.3" fill="none" stroke="#141414" stroke-width="1.25"/>
<circle cx="137.80" cy="487.50" r="3.3" fill="none" stroke="#141414" stroke-width="1.25"/>
<circle cx="133.30" cy="491.90" r="3.3" fill="none" stroke="#141414" stroke-width="1.25"/>
<circle cx="142.40" cy="489.60" r="3.3" fill="none" stroke="#141414" stroke-width="1.25"/>
<circle cx="137.80" cy="497.70" r="3.3" fill="none" stroke="#141414" stroke-width="1.25"/>
<circle cx="137.80" cy="510.20" r="3.3" fill="none" stroke="#141414" stroke-width="1.25"/>
<circle cx="135.70" cy="522.80" r="3.3" fill="none" stroke="#141414" stroke-width="1.25"/>
<circle cx="140.20" cy="524.70" r="3.3" fill="none" stroke="#141414" stroke-width="1.25"/>
<circle cx="137.80" cy="533.90" r="3.3" fill="none" stroke="#141414" stroke-width="1.25"/>
<circle cx="137.80" cy="549.20" r="3.3" fill="none" stroke="#141414" stroke-width="1.25"/>
<circle cx="137.80" cy="566.90" r="3.3" fill="none" stroke="#141414" stroke-width="1.25"/>
<circle cx="135.70" cy="586.50" r="3.3" fill="none" stroke="#141414" stroke-width="1.25"/>
<circle cx="140.20" cy="586.60" r="3.3" fill="none" stroke="#141414" stroke-width="1.25"/>
<circle cx="137.80" cy="596.90" r="3.3" fill="none" stroke="#141414" stroke-width="1.25"/>
<circle cx="137.80" cy="635.10" r="3.3" fill="none" stroke="#141414" stroke-width="1.25"/>
<line x1="137.50" y1="482.70" x2="137.50" y2="549.20" stroke="#141414" stroke-width="1" />
<line x1="132.00" y1="482.50" x2="143.60" y2="482.50" stroke="#141414" stroke-width="1" />
<line x1="132.00" y1="549.50" x2="143.60" y2="549.50" stroke="#141414" stroke-width="1" />
<line x1="125.30" y1="497.50" x2="150.30" y2="497.50" stroke="#141414" stroke-width="1.3" />
<circle cx="175.40" cy="455.40" r="3.3" fill="#dfe8ff" fill-opacity="0.4" stroke="#1d2a72" stroke-width="1.25"/>
<circle cx="175.40" cy="464.10" r="3.3" fill="#dfe8ff" fill-opacity="0.4" stroke="#1d2a72" stroke-width="1.25"/>
<circle cx="170.90" cy="470.70" r="3.3" fill="#dfe8ff" fill-opacity="0.4" stroke="#1d2a72" stroke-width="1.25"/>
<circle cx="179.80" cy="469.80" r="3.3" fill="#dfe8ff" fill-opacity="0.4" stroke="#1d2a72" stroke-width="1.25"/>
<circle cx="179.80" cy="477.10" r="3.3" fill="#dfe8ff" fill-opacity="0.4" stroke="#1d2a72" stroke-width="1.25"/>
<circle cx="175.40" cy="481.60" r="3.3" fill="#dfe8ff" fill-opacity="0.4" stroke="#1d2a72" stroke-width="1.25"/>
<circle cx="171.20" cy="487.50" r="3.3" fill="#dfe8ff" fill-opacity="0.4" stroke="#1d2a72" stroke-width="1.25"/>
<circle cx="166.50" cy="492.80" r="3.3" fill="#dfe8ff" fill-opacity="0.4" stroke="#1d2a72" stroke-width="1.25"/>
<circle cx="184.80" cy="491.90" r="3.3" fill="#dfe8ff" fill-opacity="0.4" stroke="#1d2a72" stroke-width="1.25"/>
<circle cx="175.40" cy="492.20" r="3.3" fill="#dfe8ff" fill-opacity="0.4" stroke="#1d2a72" stroke-width="1.25"/>
<circle cx="179.80" cy="494.50" r="3.3" fill="#dfe8ff" fill-opacity="0.4" stroke="#1d2a72" stroke-width="1.25"/>
<circle cx="170.90" cy="496.90" r="3.3" fill="#dfe8ff" fill-opacity="0.4" stroke="#1d2a72" stroke-width="1.25"/>
<circle cx="175.40" cy="498.70" r="3.3" fill="#dfe8ff" fill-opacity="0.4" stroke="#1d2a72" stroke-width="1.25"/>
<circle cx="179.80" cy="501.60" r="3.3" fill="#dfe8ff" fill-opacity="0.4" stroke="#1d2a72" stroke-width="1.25"/>
<circle cx="170.90" cy="501.60" r="3.3" fill="#dfe8ff" fill-opacity="0.4" stroke="#1d2a72" stroke-width="1.25"/>
<circle cx="175.40" cy="505.10" r="3.3" fill="#dfe8ff" fill-opacity="0.4" stroke="#1d2a72" stroke-width="1.25"/>
<circle cx="166.50" cy="508.70" r="3.3" fill="#dfe8ff" fill-opacity="0.4" stroke="#1d2a72" stroke-width="1.25"/>
<circle cx="170.90" cy="508.10" r="3.3" fill="#dfe8ff" fill-opacity="0.4" stroke="#1d2a72" stroke-width="1.25"/>
<circle cx="179.80" cy="510.40" r="3.3" fill="#dfe8ff" fill-opacity="0.4" stroke="#1d2a72" stroke-width="1.25"/>
<circle cx="175.40" cy="512.20" r="3.3" fill="#dfe8ff" fill-opacity="0.4" stroke="#1d2a72" stroke-width="1.25"/>
<circle cx="175.40" cy="520.50" r="3.3" fill="#dfe8ff" fill-opacity="0.4" stroke="#1d2a72" stroke-width="1.25"/>
<circle cx="177.70" cy="549.50" r="3.3" fill="#dfe8ff" fill-opacity="0.4" stroke="#1d2a72" stroke-width="1.25"/>
<circle cx="173.00" cy="552.70" r="3.3" fill="#dfe8ff" fill-opacity="0.4" stroke="#1d2a72" stroke-width="1.25"/>
<line x1="175.50" y1="488.00" x2="175.50" y2="508.70" stroke="#1d2a72" stroke-width="1" />
<line x1="169.60" y1="488.50" x2="181.20" y2="488.50" stroke="#1d2a72" stroke-width="1" />
<line x1="169.60" y1="508.50" x2="181.20" y2="508.50" stroke="#1d2a72" stroke-width="1" />
<line x1="162.90" y1="497.50" x2="187.90" y2="497.50" stroke="#1d2a72" stroke-width="1.3" />
<circle cx="207.20" cy="450.30" r="3.3" fill="none" stroke="#141414" stroke-width="1.25"/>
<circle cx="202.70" cy="455.60" r="3.3" fill="none" stroke="#141414" stroke-width="1.25"/>
<circle cx="211.70" cy="460.90" r="3.3" fill="none" stroke="#141414" stroke-width="1.25"/>
<circle cx="198.30" cy="461.30" r="3.3" fill="none" stroke="#141414" stroke-width="1.25"/>
<circle cx="193.90" cy="462.90" r="3.3" fill="none" stroke="#141414" stroke-width="1.25"/>
<circle cx="207.20" cy="465.60" r="3.3" fill="none" stroke="#141414" stroke-width="1.25"/>
<circle cx="202.70" cy="466.80" r="3.3" fill="none" stroke="#141414" stroke-width="1.25"/>
<circle cx="202.70" cy="473.90" r="3.3" fill="none" stroke="#141414" stroke-width="1.25"/>
<circle cx="193.90" cy="486.00" r="3.3" fill="none" stroke="#141414" stroke-width="1.25"/>
<circle cx="198.30" cy="486.30" r="3.3" fill="none" stroke="#141414" stroke-width="1.25"/>
<circle cx="211.70" cy="486.00" r="3.3" fill="none" stroke="#141414" stroke-width="1.25"/>
<circle cx="207.20" cy="490.40" r="3.3" fill="none" stroke="#141414" stroke-width="1.25"/>
<circle cx="202.70" cy="495.70" r="3.3" fill="none" stroke="#141414" stroke-width="1.25"/>
<circle cx="200.70" cy="504.60" r="3.3" fill="none" stroke="#141414" stroke-width="1.25"/>
<circle cx="205.20" cy="504.30" r="3.3" fill="none" stroke="#141414" stroke-width="1.25"/>
<circle cx="207.20" cy="514.90" r="3.3" fill="none" stroke="#141414" stroke-width="1.25"/>
<circle cx="202.70" cy="519.60" r="3.3" fill="none" stroke="#141414" stroke-width="1.25"/>
<circle cx="202.70" cy="537.40" r="3.3" fill="none" stroke="#141414" stroke-width="1.25"/>
<circle cx="202.70" cy="587.80" r="3.3" fill="none" stroke="#141414" stroke-width="1.25"/>
<line x1="203.50" y1="466.20" x2="203.50" y2="504.60" stroke="#141414" stroke-width="1" />
<line x1="197.90" y1="466.50" x2="209.50" y2="466.50" stroke="#141414" stroke-width="1" />
<line x1="197.90" y1="504.50" x2="209.50" y2="504.50" stroke="#141414" stroke-width="1" />
<line x1="191.20" y1="486.50" x2="216.20" y2="486.50" stroke="#141414" stroke-width="1.3" />
<circle cx="234.90" cy="403.70" r="3.3" fill="#dfe8ff" fill-opacity="0.4" stroke="#1d2a72" stroke-width="1.25"/>
<circle cx="242.10" cy="404.90" r="3.3" fill="#dfe8ff" fill-opacity="0.4" stroke="#1d2a72" stroke-width="1.25"/>
<circle cx="234.90" cy="411.20" r="3.3" fill="#dfe8ff" fill-opacity="0.4" stroke="#1d2a72" stroke-width="1.25"/>
<circle cx="238.60" cy="411.20" r="3.3" fill="#dfe8ff" fill-opacity="0.4" stroke="#1d2a72" stroke-width="1.25"/>
<circle cx="231.10" cy="418.10" r="3.3" fill="#dfe8ff" fill-opacity="0.4" stroke="#1d2a72" stroke-width="1.25"/>
<circle cx="238.60" cy="417.70" r="3.3" fill="#dfe8ff" fill-opacity="0.4" stroke="#1d2a72" stroke-width="1.25"/>
<circle cx="245.50" cy="415.60" r="3.3" fill="#dfe8ff" fill-opacity="0.4" stroke="#1d2a72" stroke-width="1.25"/>
<circle cx="249.20" cy="418.10" r="3.3" fill="#dfe8ff" fill-opacity="0.4" stroke="#1d2a72" stroke-width="1.25"/>
<circle cx="242.30" cy="418.70" r="3.3" fill="#dfe8ff" fill-opacity="0.4" stroke="#1d2a72" stroke-width="1.25"/>
<circle cx="231.10" cy="426.80" r="3.3" fill="#dfe8ff" fill-opacity="0.4" stroke="#1d2a72" stroke-width="1.25"/>
<circle cx="234.90" cy="425.50" r="3.3" fill="#dfe8ff" fill-opacity="0.4" stroke="#1d2a72" stroke-width="1.25"/>
<circle cx="238.60" cy="425.50" r="3.3" fill="#dfe8ff" fill-opacity="0.4" stroke="#1d2a72" stroke-width="1.25"/>
<circle cx="242.30" cy="425.50" r="3.3" fill="#dfe8ff" fill-opacity="0.4" stroke="#1d2a72" stroke-width="1.25"/>
<circle cx="245.50" cy="423.70" r="3.3" fill="#dfe8ff" fill-opacity="0.4" stroke="#1d2a72" stroke-width="1.25"/>
<circle cx="249.20" cy="428.00" r="3.3" fill="#dfe8ff" fill-opacity="0.4" stroke="#1d2a72" stroke-width="1.25"/>
<circle cx="234.90" cy="434.90" r="3.3" fill="#dfe8ff" fill-opacity="0.4" stroke="#1d2a72" stroke-width="1.25"/>
<circle cx="241.70" cy="434.90" r="3.3" fill="#dfe8ff" fill-opacity="0.4" stroke="#1d2a72" stroke-width="1.25"/>
<circle cx="245.50" cy="442.40" r="3.3" fill="#dfe8ff" fill-opacity="0.4" stroke="#1d2a72" stroke-width="1.25"/>
<circle cx="231.50" cy="449.00" r="3.3" fill="#dfe8ff" fill-opacity="0.4" stroke="#1d2a72" stroke-width="1.25"/>
<circle cx="234.90" cy="453.10" r="3.3" fill="#dfe8ff" fill-opacity="0.4" stroke="#1d2a72" stroke-width="1.25"/>
<circle cx="245.70" cy="450.60" r="3.3" fill="#dfe8ff" fill-opacity="0.4" stroke="#1d2a72" stroke-width="1.25"/>
<circle cx="249.80" cy="451.50" r="3.3" fill="#dfe8ff" fill-opacity="0.4" stroke="#1d2a72" stroke-width="1.25"/>
<circle cx="241.10" cy="455.00" r="3.3" fill="#dfe8ff" fill-opacity="0.4" stroke="#1d2a72" stroke-width="1.25"/>
<circle cx="238.00" cy="459.70" r="3.3" fill="#dfe8ff" fill-opacity="0.4" stroke="#1d2a72" stroke-width="1.25"/>
<circle cx="246.10" cy="459.30" r="3.3" fill="#dfe8ff" fill-opacity="0.4" stroke="#1d2a72" stroke-width="1.25"/>
<circle cx="240.50" cy="476.80" r="3.3" fill="#dfe8ff" fill-opacity="0.4" stroke="#1d2a72" stroke-width="1.25"/>
<circle cx="242.00" cy="490.80" r="3.3" fill="#dfe8ff" fill-opacity="0.4" stroke="#1d2a72" stroke-width="1.25"/>
<circle cx="238.60" cy="496.20" r="3.3" fill="#dfe8ff" fill-opacity="0.4" stroke="#1d2a72" stroke-width="1.25"/>
<line x1="240.50" y1="422.40" x2="240.50" y2="455.00" stroke="#1d2a72" stroke-width="1" />
<line x1="240.69" y1="422.50" x2="240.71" y2="422.50" stroke="#1d2a72" stroke-width="1" />
<line x1="240.69" y1="455.50" x2="240.71" y2="455.50" stroke="#1d2a72" stroke-width="1" />
<line x1="228.20" y1="429.50" x2="253.20" y2="429.50" stroke="#1d2a72" stroke-width="1.3" />
<circle cx="264.50" cy="410.00" r="3.3" fill="none" stroke="#141414" stroke-width="1.25"/>
<circle cx="268.00" cy="410.00" r="3.3" fill="none" stroke="#141414" stroke-width="1.25"/>
<circle cx="271.50" cy="410.00" r="3.3" fill="none" stroke="#141414" stroke-width="1.25"/>
<circle cx="261.50" cy="413.00" r="3.3" fill="none" stroke="#141414" stroke-width="1.25"/>
<circle cx="265.00" cy="413.00" r="3.3" fill="none" stroke="#141414" stroke-width="1.25"/>
<circle cx="268.50" cy="413.00" r="3.3" fill="none" stroke="#141414" stroke-width="1.25"/>
<circle cx="272.00" cy="413.00" r="3.3" fill="none" stroke="#141414" stroke-width="1.25"/>
<circle cx="275.00" cy="413.00" r="3.3" fill="none" stroke="#141414" stroke-width="1.25"/>
<circle cx="259.50" cy="416.50" r="3.3" fill="none" stroke="#141414" stroke-width="1.25"/>
<circle cx="263.00" cy="416.50" r="3.3" fill="none" stroke="#141414" stroke-width="1.25"/>
<circle cx="266.50" cy="416.50" r="3.3" fill="none" stroke="#141414" stroke-width="1.25"/>
<circle cx="270.00" cy="416.50" r="3.3" fill="none" stroke="#141414" stroke-width="1.25"/>
<circle cx="273.50" cy="416.50" r="3.3" fill="none" stroke="#141414" stroke-width="1.25"/>
<circle cx="277.00" cy="416.50" r="3.3" fill="none" stroke="#141414" stroke-width="1.25"/>
<circle cx="258.70" cy="420.00" r="3.3" fill="none" stroke="#141414" stroke-width="1.25"/>
<circle cx="262.00" cy="420.00" r="3.3" fill="none" stroke="#141414" stroke-width="1.25"/>
<circle cx="265.50" cy="420.00" r="3.3" fill="none" stroke="#141414" stroke-width="1.25"/>
<circle cx="269.00" cy="420.00" r="3.3" fill="none" stroke="#141414" stroke-width="1.25"/>
<circle cx="272.50" cy="420.00" r="3.3" fill="none" stroke="#141414" stroke-width="1.25"/>
<circle cx="276.00" cy="420.00" r="3.3" fill="none" stroke="#141414" stroke-width="1.25"/>
<circle cx="259.00" cy="423.00" r="3.3" fill="none" stroke="#141414" stroke-width="1.25"/>
<circle cx="264.00" cy="423.00" r="3.3" fill="none" stroke="#141414" stroke-width="1.25"/>
<circle cx="268.00" cy="423.00" r="3.3" fill="none" stroke="#141414" stroke-width="1.25"/>
<circle cx="272.00" cy="423.00" r="3.3" fill="none" stroke="#141414" stroke-width="1.25"/>
<circle cx="276.70" cy="423.00" r="3.3" fill="none" stroke="#141414" stroke-width="1.25"/>
<circle cx="269.00" cy="428.60" r="3.3" fill="none" stroke="#141414" stroke-width="1.25"/>
<circle cx="266.00" cy="431.50" r="3.3" fill="none" stroke="#141414" stroke-width="1.25"/>
<circle cx="268.00" cy="438.00" r="3.3" fill="none" stroke="#141414" stroke-width="1.25"/>
</g>
<g>
<text x="314.50" y="15.50" font-size="15.2" text-anchor="start" fill="#111" font-weight="bold" stroke="#111" stroke-width="0.22" >b</text>
<rect x="389.00" y="17.90" width="21.20" height="15.00" fill="#6d8af0"/>
<rect x="389.00" y="33.10" width="21.20" height="1.60" fill="#e8eefc"/>
<rect x="389.00" y="34.90" width="21.20" height="4.10" fill="#8f8f8f"/>
<rect x="389.00" y="39.10" width="21.20" height="0.90" fill="#b8d0f8"/>
<rect x="389.00" y="40.10" width="21.20" height="3.00" fill="#1838a8"/>
<rect x="389.00" y="43.30" width="21.20" height="1.60" fill="#e6d8f4"/>
<rect x="389.00" y="45.10" width="21.20" height="51.20" fill="#9c1507"/>
<rect x="389.00" y="96.50" width="21.20" height="1.10" fill="#f6d8f0"/>
<rect x="389.00" y="97.80" width="21.20" height="3.00" fill="#dd86f6"/>
<rect x="389.00" y="101.00" width="21.20" height="1.20" fill="#f0d8f8"/>
<rect x="389.00" y="102.40" width="21.20" height="12.20" fill="#984fcf"/>
<rect x="389.00" y="114.80" width="21.20" height="1.10" fill="#d0e0f4"/>
<rect x="389.00" y="116.10" width="21.20" height="2.00" fill="#2f8fc0"/>
<rect x="389.00" y="119.10" width="21.20" height="167.50" fill="#fe9c0a"/>
<rect x="422.40" y="19.50" width="21.40" height="5.30" fill="#9f5a09"/>
<rect x="422.40" y="28.30" width="21.40" height="2.80" fill="#8a98a8"/>
<rect x="422.40" y="31.20" width="21.40" height="0.80" fill="#c8d4f8"/>
<rect x="422.40" y="32.10" width="21.40" height="38.70" fill="#1136e0"/>
<rect x="422.40" y="72.30" width="21.40" height="4.60" fill="#9c1507"/>
<rect x="422.40" y="77.10" width="21.40" height="0.70" fill="#f4d0f0"/>
<rect x="422.40" y="77.90" width="21.40" height="34.10" fill="#dd86f6"/>
<rect x="422.40" y="112.20" width="21.40" height="1.60" fill="#ecc8f8"/>
<rect x="422.40" y="114.00" width="21.40" height="23.40" fill="#984fcf"/>
<rect x="422.40" y="137.60" width="21.40" height="1.90" fill="#c8dcf8"/>
<rect x="422.40" y="139.70" width="21.40" height="38.90" fill="#1198f2"/>
<rect x="422.40" y="180.50" width="21.40" height="106.10" fill="#fe9c0a"/>
<rect x="456.00" y="17.30" width="21.40" height="2.20" fill="#8f9878"/>
<rect x="456.00" y="19.50" width="21.40" height="5.30" fill="#9f5a09"/>
<rect x="456.00" y="24.80" width="21.40" height="8.90" fill="#ffd27e"/>
<rect x="456.00" y="35.60" width="21.40" height="2.20" fill="#b4bcd4"/>
<rect x="456.00" y="37.80" width="21.40" height="16.50" fill="#8f8f8f"/>
<rect x="456.00" y="55.80" width="21.40" height="32.10" fill="#1136e0"/>
<rect x="456.00" y="88.20" width="21.40" height="1.70" fill="#f0a8e4"/>
<rect x="456.00" y="90.20" width="21.40" height="23.50" fill="#9c1507"/>
<rect x="456.00" y="113.90" width="21.40" height="1.20" fill="#f4c8f0"/>
<rect x="456.00" y="115.30" width="21.40" height="28.70" fill="#dd86f6"/>
<rect x="456.00" y="144.20" width="21.40" height="1.40" fill="#ecc8f8"/>
<rect x="456.00" y="145.80" width="21.40" height="6.90" fill="#984fcf"/>
<rect x="456.00" y="152.90" width="21.40" height="1.60" fill="#c0dcf8"/>
<rect x="456.00" y="154.70" width="21.40" height="3.00" fill="#2a88c0"/>
<rect x="456.00" y="159.20" width="21.40" height="127.40" fill="#fe9c0a"/>
<rect x="490.00" y="19.60" width="22.00" height="2.20" fill="#9f5a09"/>
<rect x="490.00" y="21.80" width="22.00" height="3.10" fill="#fff2d4"/>
<rect x="490.00" y="24.90" width="22.00" height="1.80" fill="#8f9878"/>
<rect x="490.00" y="26.90" width="22.00" height="1.60" fill="#a8c8f8"/>
<rect x="490.00" y="28.70" width="22.00" height="11.80" fill="#1136e0"/>
<rect x="490.00" y="42.00" width="22.00" height="4.80" fill="#9c1507"/>
<rect x="490.00" y="47.00" width="22.00" height="0.80" fill="#f4d0f0"/>
<rect x="490.00" y="48.00" width="22.00" height="4.60" fill="#dd86f6"/>
<rect x="490.00" y="52.80" width="22.00" height="1.10" fill="#ecc8f8"/>
<rect x="490.00" y="54.10" width="22.00" height="16.40" fill="#984fcf"/>
<rect x="490.00" y="70.70" width="22.00" height="1.20" fill="#c8dcf8"/>
<rect x="490.00" y="72.10" width="22.00" height="46.20" fill="#1198f2"/>
<rect x="490.00" y="120.00" width="22.00" height="166.60" fill="#fe9c0a"/>
<rect x="524.60" y="20.00" width="21.00" height="1.40" fill="#9a9a9a"/>
<rect x="524.60" y="23.40" width="21.00" height="0.70" fill="#9a9a9a"/>
<rect x="524.60" y="25.30" width="21.00" height="9.10" fill="#8f8f8f"/>
<rect x="524.60" y="34.60" width="21.00" height="1.40" fill="#a8c8f8"/>
<rect x="524.60" y="36.20" width="21.00" height="4.30" fill="#1838c8"/>
<rect x="524.60" y="42.00" width="21.00" height="5.60" fill="#9c1507"/>
<rect x="524.60" y="47.80" width="21.00" height="0.80" fill="#f4d0f0"/>
<rect x="524.60" y="48.80" width="21.00" height="3.80" fill="#dd86f6"/>
<rect x="524.60" y="52.80" width="21.00" height="1.10" fill="#ecc8f8"/>
<rect x="524.60" y="54.10" width="21.00" height="8.30" fill="#984fcf"/>
<rect x="524.60" y="62.60" width="21.00" height="1.30" fill="#c8dcf8"/>
<rect x="524.60" y="64.10" width="21.00" height="19.50" fill="#1198f2"/>
<rect x="524.60" y="85.30" width="21.00" height="201.30" fill="#fe9c0a"/>
<rect x="558.20" y="19.60" width="21.10" height="3.30" fill="#9f5a09"/>
<rect x="558.20" y="24.60" width="21.10" height="1.30" fill="#a08070"/>
<rect x="558.20" y="26.80" width="21.10" height="1.90" fill="#700018"/>
<rect x="558.20" y="28.90" width="21.10" height="0.80" fill="#f4d0f0"/>
<rect x="558.20" y="29.90" width="21.10" height="16.20" fill="#dd86f6"/>
<rect x="558.20" y="46.30" width="21.10" height="0.70" fill="#ecc8f8"/>
<rect x="558.20" y="47.20" width="21.10" height="4.50" fill="#984fcf"/>
<rect x="558.20" y="51.90" width="21.10" height="1.10" fill="#c8dcf8"/>
<rect x="558.20" y="53.20" width="21.10" height="33.20" fill="#1198f2"/>
<rect x="558.20" y="88.10" width="21.10" height="198.50" fill="#fe9c0a"/>
<line x1="377.50" y1="17.50" x2="377.50" y2="287.50" stroke="#333" stroke-width="1.1" />
<line x1="372.30" y1="287.50" x2="592.00" y2="287.50" stroke="#333" stroke-width="1.1" />
<line x1="372.30" y1="18.50" x2="377.50" y2="18.50" stroke="#333" stroke-width="1" />
<text x="366.30" y="21.50" font-size="10.0" text-anchor="end" fill="#2a2a2a" font-weight="normal" stroke="#2a2a2a" stroke-width="0.22" textLength="15.5" lengthAdjust="spacingAndGlyphs" >100</text>
<line x1="372.30" y1="85.50" x2="377.50" y2="85.50" stroke="#333" stroke-width="1" />
<text x="366.30" y="88.90" font-size="10.0" text-anchor="end" fill="#2a2a2a" font-weight="normal" stroke="#2a2a2a" stroke-width="0.22" textLength="9.5" lengthAdjust="spacingAndGlyphs" >75</text>
<line x1="372.30" y1="152.50" x2="377.50" y2="152.50" stroke="#333" stroke-width="1" />
<text x="366.30" y="156.20" font-size="10.0" text-anchor="end" fill="#2a2a2a" font-weight="normal" stroke="#2a2a2a" stroke-width="0.22" textLength="10" lengthAdjust="spacingAndGlyphs" >50</text>
<line x1="372.30" y1="220.50" x2="377.50" y2="220.50" stroke="#333" stroke-width="1" />
<text x="366.30" y="223.60" font-size="10.0" text-anchor="end" fill="#2a2a2a" font-weight="normal" stroke="#2a2a2a" stroke-width="0.22" textLength="10" lengthAdjust="spacingAndGlyphs" >25</text>
<line x1="372.30" y1="287.50" x2="377.50" y2="287.50" stroke="#333" stroke-width="1" />
<text x="366.30" y="291.00" font-size="10.0" text-anchor="end" fill="#2a2a2a" font-weight="normal" stroke="#2a2a2a" stroke-width="0.22" textLength="5.6" lengthAdjust="spacingAndGlyphs" >0</text>
<line x1="399.50" y1="287.50" x2="399.50" y2="293.00" stroke="#333" stroke-width="1" />
<text x="404.30" y="303.00" font-size="10.8" text-anchor="end" fill="#1e1e1e" font-weight="normal" stroke="#1e1e1e" stroke-width="0.22" transform="rotate(-45 404.30 303.00)" >Liver 2016</text>
<line x1="433.50" y1="287.50" x2="433.50" y2="293.00" stroke="#333" stroke-width="1" />
<text x="438.10" y="303.00" font-size="10.8" text-anchor="end" fill="#1e1e1e" font-weight="normal" stroke="#1e1e1e" stroke-width="0.22" transform="rotate(-45 438.10 303.00)" >Liver 2024</text>
<line x1="467.50" y1="287.50" x2="467.50" y2="293.00" stroke="#333" stroke-width="1" />
<text x="471.90" y="303.00" font-size="10.8" text-anchor="end" fill="#1e1e1e" font-weight="normal" stroke="#1e1e1e" stroke-width="0.22" transform="rotate(-45 471.90 303.00)" >Kidney 2016</text>
<line x1="501.50" y1="287.50" x2="501.50" y2="293.00" stroke="#333" stroke-width="1" />
<text x="506.10" y="303.00" font-size="10.8" text-anchor="end" fill="#1e1e1e" font-weight="normal" stroke="#1e1e1e" stroke-width="0.22" transform="rotate(-45 506.10 303.00)" >Kidney 2024</text>
<line x1="534.50" y1="287.50" x2="534.50" y2="293.00" stroke="#333" stroke-width="1" />
<text x="539.50" y="303.00" font-size="10.8" text-anchor="end" fill="#1e1e1e" font-weight="normal" stroke="#1e1e1e" stroke-width="0.22" transform="rotate(-45 539.50 303.00)" >Brain 2016</text>
<line x1="568.50" y1="287.50" x2="568.50" y2="293.00" stroke="#333" stroke-width="1" />
<text x="573.20" y="303.00" font-size="10.8" text-anchor="end" fill="#1e1e1e" font-weight="normal" stroke="#1e1e1e" stroke-width="0.22" transform="rotate(-45 573.20 303.00)" >Brain 2024</text>
<text x="345.00" y="151.50" font-size="11" text-anchor="middle" fill="#2a2a2a" font-weight="normal" stroke="#2a2a2a" stroke-width="0.22" transform="rotate(-90 345.00 151.50)" textLength="74" lengthAdjust="spacingAndGlyphs" >Total mass (%)</text>
<rect x="598.3" y="56.30" width="11" height="10.7" fill="#0f9120"/>
<text x="614.50" y="65.50" font-size="10.5" text-anchor="start" fill="#2a2a2a" font-weight="normal" stroke="#2a2a2a" stroke-width="0.22" >PU</text>
<rect x="598.3" y="72.83" width="11" height="10.7" fill="#9f5a09"/>
<text x="614.50" y="82.03" font-size="10.5" text-anchor="start" fill="#2a2a2a" font-weight="normal" stroke="#2a2a2a" stroke-width="0.22" >PMMA</text>
<rect x="598.3" y="89.36" width="11" height="10.7" fill="#ffd27e"/>
<text x="614.50" y="98.56" font-size="10.5" text-anchor="start" fill="#2a2a2a" font-weight="normal" stroke="#2a2a2a" stroke-width="0.22" >ABS</text>
<rect x="598.3" y="105.89" width="11" height="10.7" fill="#9cc8f6"/>
<text x="614.50" y="115.09" font-size="10.5" text-anchor="start" fill="#2a2a2a" font-weight="normal" stroke="#2a2a2a" stroke-width="0.22" >PS</text>
<rect x="598.3" y="122.42" width="11" height="10.7" fill="#6d8af0"/>
<text x="614.50" y="131.62" font-size="10.5" text-anchor="start" fill="#2a2a2a" font-weight="normal" stroke="#2a2a2a" stroke-width="0.22" >PC</text>
<rect x="598.3" y="138.95" width="11" height="10.7" fill="#984fcf"/>
<text x="614.50" y="148.15" font-size="10.5" text-anchor="start" fill="#2a2a2a" font-weight="normal" stroke="#2a2a2a" stroke-width="0.22" >SBR</text>
<rect x="598.3" y="155.48" width="11" height="10.7" fill="#8f8f8f"/>
<text x="614.50" y="164.68" font-size="10.5" text-anchor="start" fill="#2a2a2a" font-weight="normal" stroke="#2a2a2a" stroke-width="0.22" >PET</text>
<rect x="598.3" y="172.01" width="11" height="10.7" fill="#1136e0"/>
<text x="614.50" y="181.21" font-size="10.5" text-anchor="start" fill="#2a2a2a" font-weight="normal" stroke="#2a2a2a" stroke-width="0.22" >N66</text>
<rect x="598.3" y="188.54" width="11" height="10.7" fill="#9c1507"/>
<text x="614.50" y="197.74" font-size="10.5" text-anchor="start" fill="#2a2a2a" font-weight="normal" stroke="#2a2a2a" stroke-width="0.22" >N6</text>
<rect x="598.3" y="205.07" width="11" height="10.7" fill="#dd86f6"/>
<text x="614.50" y="214.27" font-size="10.5" text-anchor="start" fill="#2a2a2a" font-weight="normal" stroke="#2a2a2a" stroke-width="0.22" >PVC</text>
<rect x="598.3" y="221.60" width="11" height="10.7" fill="#1198f2"/>
<text x="614.50" y="230.80" font-size="10.5" text-anchor="start" fill="#2a2a2a" font-weight="normal" stroke="#2a2a2a" stroke-width="0.22" >PP</text>
<rect x="598.3" y="238.13" width="11" height="10.7" fill="#fe9c0a"/>
<text x="614.50" y="247.33" font-size="10.5" text-anchor="start" fill="#2a2a2a" font-weight="normal" stroke="#2a2a2a" stroke-width="0.22" >PE</text>
</g>
<g>
<text x="314.50" y="372.00" font-size="15.2" text-anchor="start" fill="#111" font-weight="bold" stroke="#111" stroke-width="0.22" >d</text>
<rect x="382" y="395.8" width="78.5" height="33.7" fill="#ececec"/>
<rect x="381.8" y="518.9" width="84.8" height="73.5" fill="#ebeced"/>
<line x1="377.50" y1="388.70" x2="377.50" y2="504.50" stroke="#333" stroke-width="1.1" />
<line x1="377.50" y1="516.70" x2="377.50" y2="649.50" stroke="#333" stroke-width="1.1" />
<line x1="375.20" y1="649.50" x2="597.20" y2="649.50" stroke="#333" stroke-width="1.1" />
<line x1="372.20" y1="388.50" x2="377.50" y2="388.50" stroke="#333" stroke-width="1" />
<text x="365.80" y="392.80" font-size="10.0" text-anchor="end" fill="#2a2a2a" font-weight="normal" stroke="#2a2a2a" stroke-width="0.22" textLength="31.2" lengthAdjust="spacingAndGlyphs" >50,000</text>
<line x1="372.20" y1="418.50" x2="377.50" y2="418.50" stroke="#333" stroke-width="1" />
<text x="365.80" y="422.00" font-size="10.0" text-anchor="end" fill="#2a2a2a" font-weight="normal" stroke="#2a2a2a" stroke-width="0.22" textLength="31.2" lengthAdjust="spacingAndGlyphs" >40,000</text>
<line x1="372.20" y1="447.50" x2="377.50" y2="447.50" stroke="#333" stroke-width="1" />
<text x="365.80" y="451.00" font-size="10.0" text-anchor="end" fill="#2a2a2a" font-weight="normal" stroke="#2a2a2a" stroke-width="0.22" textLength="31.2" lengthAdjust="spacingAndGlyphs" >30,000</text>
<line x1="372.20" y1="475.50" x2="377.50" y2="475.50" stroke="#333" stroke-width="1" />
<text x="365.80" y="479.80" font-size="10.0" text-anchor="end" fill="#2a2a2a" font-weight="normal" stroke="#2a2a2a" stroke-width="0.22" textLength="31.2" lengthAdjust="spacingAndGlyphs" >20,000</text>
<line x1="372.20" y1="504.50" x2="377.50" y2="504.50" stroke="#333" stroke-width="1" />
<text x="365.80" y="508.50" font-size="10.0" text-anchor="end" fill="#2a2a2a" font-weight="normal" stroke="#2a2a2a" stroke-width="0.22" textLength="30.2" lengthAdjust="spacingAndGlyphs" >10,000</text>
<line x1="372.20" y1="516.50" x2="377.50" y2="516.50" stroke="#333" stroke-width="1" />
<text x="365.80" y="520.80" font-size="10.0" text-anchor="end" fill="#2a2a2a" font-weight="normal" stroke="#2a2a2a" stroke-width="0.22" textLength="30.2" lengthAdjust="spacingAndGlyphs" >10,000</text>
<line x1="372.20" y1="582.50" x2="377.50" y2="582.50" stroke="#333" stroke-width="1" />
<text x="365.80" y="586.50" font-size="10.0" text-anchor="end" fill="#2a2a2a" font-weight="normal" stroke="#2a2a2a" stroke-width="0.22" textLength="25" lengthAdjust="spacingAndGlyphs" >5,000</text>
<line x1="372.20" y1="649.50" x2="377.50" y2="649.50" stroke="#333" stroke-width="1" />
<text x="365.80" y="653.50" font-size="10.0" text-anchor="end" fill="#2a2a2a" font-weight="normal" stroke="#2a2a2a" stroke-width="0.22" textLength="5.4" lengthAdjust="spacingAndGlyphs" >0</text>
<line x1="377.50" y1="504.50" x2="560.50" y2="504.50" stroke="#686868" stroke-width="1.2" stroke-dasharray="3.4 1.9"/>
<line x1="377.50" y1="516.50" x2="560.50" y2="516.50" stroke="#1c1c1c" stroke-width="1.3" stroke-dasharray="3.4 1.9"/>
<line x1="383.50" y1="649.50" x2="383.50" y2="652.60" stroke="#333" stroke-width="0.9" />
<line x1="390.50" y1="649.50" x2="390.50" y2="652.60" stroke="#333" stroke-width="0.9" />
<line x1="397.50" y1="649.50" x2="397.50" y2="652.60" stroke="#333" stroke-width="0.9" />
<line x1="405.50" y1="649.50" x2="405.50" y2="652.60" stroke="#333" stroke-width="0.9" />
<line x1="412.50" y1="649.50" x2="412.50" y2="655.60" stroke="#333" stroke-width="1" />
<text x="412.20" y="669.50" font-size="10.5" text-anchor="middle" fill="#2a2a2a" font-weight="normal" stroke="#2a2a2a" stroke-width="0.22" textLength="21.3" lengthAdjust="spacingAndGlyphs" >2000</text>
<line x1="419.50" y1="649.50" x2="419.50" y2="652.60" stroke="#333" stroke-width="0.9" />
<line x1="426.50" y1="649.50" x2="426.50" y2="652.60" stroke="#333" stroke-width="0.9" />
<line x1="433.50" y1="649.50" x2="433.50" y2="652.60" stroke="#333" stroke-width="0.9" />
<line x1="440.50" y1="649.50" x2="440.50" y2="652.60" stroke="#333" stroke-width="0.9" />
<line x1="447.50" y1="649.50" x2="447.50" y2="652.60" stroke="#333" stroke-width="0.9" />
<line x1="454.50" y1="649.50" x2="454.50" y2="652.60" stroke="#333" stroke-width="0.9" />
<line x1="461.50" y1="649.50" x2="461.50" y2="652.60" stroke="#333" stroke-width="0.9" />
<line x1="469.50" y1="649.50" x2="469.50" y2="652.60" stroke="#333" stroke-width="0.9" />
<line x1="476.50" y1="649.50" x2="476.50" y2="652.60" stroke="#333" stroke-width="0.9" />
<line x1="483.50" y1="649.50" x2="483.50" y2="655.60" stroke="#333" stroke-width="1" />
<text x="483.30" y="669.50" font-size="10.5" text-anchor="middle" fill="#2a2a2a" font-weight="normal" stroke="#2a2a2a" stroke-width="0.22" textLength="21" lengthAdjust="spacingAndGlyphs" >2010</text>
<line x1="490.50" y1="649.50" x2="490.50" y2="652.60" stroke="#333" stroke-width="0.9" />
<line x1="497.50" y1="649.50" x2="497.50" y2="652.60" stroke="#333" stroke-width="0.9" />
<line x1="504.50" y1="649.50" x2="504.50" y2="652.60" stroke="#333" stroke-width="0.9" />
<line x1="511.50" y1="649.50" x2="511.50" y2="652.60" stroke="#333" stroke-width="0.9" />
<line x1="518.50" y1="649.50" x2="518.50" y2="652.60" stroke="#333" stroke-width="0.9" />
<line x1="525.50" y1="649.50" x2="525.50" y2="652.60" stroke="#333" stroke-width="0.9" />
<line x1="533.50" y1="649.50" x2="533.50" y2="652.60" stroke="#333" stroke-width="0.9" />
<line x1="540.50" y1="649.50" x2="540.50" y2="652.60" stroke="#333" stroke-width="0.9" />
<line x1="547.50" y1="649.50" x2="547.50" y2="652.60" stroke="#333" stroke-width="0.9" />
<line x1="554.50" y1="649.50" x2="554.50" y2="655.60" stroke="#333" stroke-width="1" />
<text x="554.40" y="669.50" font-size="10.5" text-anchor="middle" fill="#2a2a2a" font-weight="normal" stroke="#2a2a2a" stroke-width="0.22" textLength="22.6" lengthAdjust="spacingAndGlyphs" >2020</text>
<line x1="561.50" y1="649.50" x2="561.50" y2="652.60" stroke="#333" stroke-width="0.9" />
<line x1="568.50" y1="649.50" x2="568.50" y2="652.60" stroke="#333" stroke-width="0.9" />
<line x1="575.50" y1="649.50" x2="575.50" y2="652.60" stroke="#333" stroke-width="0.9" />
<line x1="582.50" y1="649.50" x2="582.50" y2="652.60" stroke="#333" stroke-width="0.9" />
<line x1="589.50" y1="649.50" x2="589.50" y2="652.60" stroke="#333" stroke-width="0.9" />
<text x="486.50" y="686.30" font-size="11" text-anchor="middle" fill="#2a2a2a" font-weight="normal" stroke="#2a2a2a" stroke-width="0.22" textLength="78" lengthAdjust="spacingAndGlyphs" >Collection year</text>
<text x="324.60" y="510.70" font-size="11" text-anchor="middle" fill="#2a2a2a" font-weight="normal" stroke="#2a2a2a" stroke-width="0.22" transform="rotate(-90 324.60 510.70)" textLength="139.5" lengthAdjust="spacingAndGlyphs" >Brain microplastics (µg g<tspan font-size="6.5" dy="-3.6">−1</tspan><tspan dy="3.6">)</tspan></text>
<circle cx="393.80" cy="406.50" r="4.9" fill="#8a3ee6" stroke="#3c1c78" stroke-width="1.15"/>
<text x="404.30" y="410.70" font-size="10.8" text-anchor="start" fill="#2a2a2a" font-weight="normal" stroke="#2a2a2a" stroke-width="0.22" textLength="48" lengthAdjust="spacingAndGlyphs" >Dementia</text>
<text x="404.30" y="423.70" font-size="10.8" text-anchor="start" fill="#2a2a2a" font-weight="normal" stroke="#2a2a2a" stroke-width="0.22" textLength="28.5" lengthAdjust="spacingAndGlyphs" >cases</text>
<text x="385.50" y="532.00" font-size="10.8" text-anchor="start" fill="#2a2a2a" font-weight="normal" stroke="#2a2a2a" stroke-width="0.22" textLength="72" lengthAdjust="spacingAndGlyphs" >Normal brains</text>
<text x="385.00" y="544.70" font-size="9.4" text-anchor="start" fill="#2a2a2a" font-weight="normal" stroke="#2a2a2a" stroke-width="0.22" >NC</text>
<path d="M411.10 536.90L416.00 541.80L411.10 546.70L406.20 541.80Z" fill="#dfe6ff" stroke="#3a50a8" stroke-width="1.05"/>
<text x="385.00" y="558.37" font-size="9.4" text-anchor="start" fill="#2a2a2a" font-weight="normal" stroke="#2a2a2a" stroke-width="0.22" >MD</text>
<path d="M411.10 550.57L416.00 555.47L411.10 560.37L406.20 555.47Z" fill="#ffe2c4" stroke="#e6a868" stroke-width="1.05"/>
<text x="385.00" y="572.04" font-size="9.4" text-anchor="start" fill="#2a2a2a" font-weight="normal" stroke="#2a2a2a" stroke-width="0.22" >MA</text>
<path d="M411.10 564.24L416.00 569.14L411.10 574.04L406.20 569.14Z" fill="#d2f0d2" stroke="#3a9a50" stroke-width="1.05"/>
<text x="385.00" y="585.71" font-size="9.4" text-anchor="start" fill="#2a2a2a" font-weight="normal" stroke="#2a2a2a" stroke-width="0.22" >NM</text>
<path d="M411.10 577.91L416.00 582.81L411.10 587.71L406.20 582.81Z" fill="#ffd2d2" stroke="#d66060" stroke-width="1.05"/>
<path d="M390.75 616.90L395.35 621.50L390.75 626.10L386.15 621.50Z" fill="#e4edff" stroke="#2a3f96" stroke-width="1.15"/>
<path d="M398.00 609.65L402.60 614.25L398.00 618.85L393.40 614.25Z" fill="#e4edff" stroke="#2a3f96" stroke-width="1.15"/>
<path d="M426.75 610.60L431.35 615.20L426.75 619.80L422.15 615.20Z" fill="#e4edff" stroke="#2a3f96" stroke-width="1.15"/>
<path d="M419.30 632.00L423.90 636.60L419.30 641.20L414.70 636.60Z" fill="#e4edff" stroke="#2a3f96" stroke-width="1.15"/>
<path d="M433.50 636.00L438.10 640.60L433.50 645.20L428.90 640.60Z" fill="#e4edff" stroke="#2a3f96" stroke-width="1.15"/>
<path d="M448.00 622.90L452.60 627.50L448.00 632.10L443.40 627.50Z" fill="#e4edff" stroke="#2a3f96" stroke-width="1.15"/>
<path d="M462.00 634.65L466.60 639.25L462.00 643.85L457.40 639.25Z" fill="#e4edff" stroke="#2a3f96" stroke-width="1.15"/>
<path d="M469.00 635.60L473.60 640.20L469.00 644.80L464.40 640.20Z" fill="#e4edff" stroke="#2a3f96" stroke-width="1.15"/>
<path d="M483.20 624.15L487.80 628.75L483.20 633.35L478.60 628.75Z" fill="#e4edff" stroke="#2a3f96" stroke-width="1.15"/>
<path d="M483.20 640.40L487.80 645.00L483.20 649.60L478.60 645.00Z" fill="#e4edff" stroke="#2a3f96" stroke-width="1.15"/>
<path d="M504.40 639.65L509.00 644.25L504.40 648.85L499.80 644.25Z" fill="#e4edff" stroke="#2a3f96" stroke-width="1.15"/>
<path d="M448.00 609.65L452.60 614.25L448.00 618.85L443.40 614.25Z" fill="#fdebd0" stroke="#e2a252" stroke-width="1.15"/>
<path d="M433.75 616.90L438.35 621.50L433.75 626.10L429.15 621.50Z" fill="#fdebd0" stroke="#e2a252" stroke-width="1.15"/>
<path d="M419.30 621.40L423.90 626.00L419.30 630.60L414.70 626.00Z" fill="#fdebd0" stroke="#e2a252" stroke-width="1.15"/>
<path d="M432.80 623.90L437.40 628.50L432.80 633.10L428.20 628.50Z" fill="#fdebd0" stroke="#e2a252" stroke-width="1.15"/>
<path d="M412.20 640.90L416.80 645.50L412.20 650.10L407.60 645.50Z" fill="#fdebd0" stroke="#e2a252" stroke-width="1.15"/>
<path d="M420.30 641.00L424.90 645.60L420.30 650.20L415.70 645.60Z" fill="#fdebd0" stroke="#e2a252" stroke-width="1.15"/>
<path d="M426.40 644.10L431.00 648.70L426.40 653.30L421.80 648.70Z" fill="#fdebd0" stroke="#e2a252" stroke-width="1.15"/>
<path d="M440.75 621.65L445.35 626.25L440.75 630.85L436.15 626.25Z" fill="#cff2d0" stroke="#22903c" stroke-width="1.15"/>
<path d="M440.75 627.90L445.35 632.50L440.75 637.10L436.15 632.50Z" fill="#cff2d0" stroke="#22903c" stroke-width="1.15"/>
<path d="M440.00 632.00L444.60 636.60L440.00 641.20L435.40 636.60Z" fill="#cff2d0" stroke="#22903c" stroke-width="1.15"/>
<path d="M440.75 638.20L445.35 642.80L440.75 647.40L436.15 642.80Z" fill="#cff2d0" stroke="#22903c" stroke-width="1.15"/>
<path d="M448.00 638.50L452.60 643.10L448.00 647.70L443.40 643.10Z" fill="#cff2d0" stroke="#22903c" stroke-width="1.15"/>
<path d="M391 633.3L500 606.4L536 595.7L594.4 575.3" fill="none" stroke="#2a2a2a" stroke-width="1.25" stroke-dasharray="15 1.3"/>
<path d="M390.5 639.3L500 611.3L540.5 600.8L592.5 586.5" fill="none" stroke="#2a2a2a" stroke-width="1.25"/>
<path d="M390.5 645L500 616.5L536 607.1L593.7 592" fill="none" stroke="#2a2a2a" stroke-width="1.25" stroke-dasharray="15 1.3 3 1.3"/>
<path d="M525.60 527.60L530.20 532.20L525.60 536.80L521.00 532.20Z" fill="#fff8f3" stroke="#c4684e" stroke-width="1.25"/>
<path d="M525.60 539.00L530.20 543.60L525.60 548.20L521.00 543.60Z" fill="#fff8f3" stroke="#c4684e" stroke-width="1.25"/>
<path d="M525.60 561.40L530.20 566.00L525.60 570.60L521.00 566.00Z" fill="#ffeee4" stroke="#e04a22" stroke-width="1.25"/>
<path d="M525.60 568.80L530.20 573.40L525.60 578.00L521.00 573.40Z" fill="#ffeee4" stroke="#e04a22" stroke-width="1.25"/>
<path d="M525.60 573.40L530.20 578.00L525.60 582.60L521.00 578.00Z" fill="#ffeee4" stroke="#e04a22" stroke-width="1.25"/>
<path d="M525.60 580.00L530.20 584.60L525.60 589.20L521.00 584.60Z" fill="#ffeee4" stroke="#e04a22" stroke-width="1.25"/>
<path d="M525.60 585.40L530.20 590.00L525.60 594.60L521.00 590.00Z" fill="#ffeee4" stroke="#e04a22" stroke-width="1.25"/>
<path d="M525.60 589.10L530.20 593.70L525.60 598.30L521.00 593.70Z" fill="#ffeee4" stroke="#e04a22" stroke-width="1.25"/>
<path d="M525.60 592.80L530.20 597.40L525.60 602.00L521.00 597.40Z" fill="#ffeee4" stroke="#e04a22" stroke-width="1.25"/>
<path d="M525.60 596.90L530.20 601.50L525.60 606.10L521.00 601.50Z" fill="#ffeee4" stroke="#e04a22" stroke-width="1.25"/>
<path d="M525.60 601.40L530.20 606.00L525.60 610.60L521.00 606.00Z" fill="#ffeee4" stroke="#e04a22" stroke-width="1.25"/>
<path d="M525.60 607.20L530.20 611.80L525.60 616.40L521.00 611.80Z" fill="#ffeee4" stroke="#e04a22" stroke-width="1.25"/>
<path d="M525.60 613.70L530.20 618.30L525.60 622.90L521.00 618.30Z" fill="#ffeee4" stroke="#e04a22" stroke-width="1.25"/>
<path d="M525.60 616.90L530.20 621.50L525.60 626.10L521.00 621.50Z" fill="#ffeee4" stroke="#e04a22" stroke-width="1.25"/>
<path d="M525.60 623.10L530.20 627.70L525.60 632.30L521.00 627.70Z" fill="#ffeee4" stroke="#e04a22" stroke-width="1.25"/>
<path d="M525.60 627.70L530.20 632.30L525.60 636.90L521.00 632.30Z" fill="#ffeee4" stroke="#e04a22" stroke-width="1.25"/>
<path d="M525.60 632.40L530.20 637.00L525.60 641.60L521.00 637.00Z" fill="#ffeee4" stroke="#e04a22" stroke-width="1.25"/>
<path d="M525.60 639.00L530.20 643.60L525.60 648.20L521.00 643.60Z" fill="#ffeee4" stroke="#e04a22" stroke-width="1.25"/>
<path d="M525.60 644.00L530.20 648.60L525.60 653.20L521.00 648.60Z" fill="#ffeee4" stroke="#e04a22" stroke-width="1.25"/>
<path d="M582.20 553.60L586.80 558.20L582.20 562.80L577.60 558.20Z" fill="#fff6f0" stroke="#e05a34" stroke-width="1.05"/>
<path d="M582.20 558.10L586.80 562.70L582.20 567.30L577.60 562.70Z" fill="#fff6f0" stroke="#e05a34" stroke-width="1.05"/>
<path d="M582.20 562.20L586.80 566.80L582.20 571.40L577.60 566.80Z" fill="#fff6f0" stroke="#e05a34" stroke-width="1.05"/>
<path d="M582.20 566.40L586.80 571.00L582.20 575.60L577.60 571.00Z" fill="#fff6f0" stroke="#e05a34" stroke-width="1.05"/>
<path d="M582.20 595.80L586.80 600.40L582.20 605.00L577.60 600.40Z" fill="#fff6f0" stroke="#e05a34" stroke-width="1.05"/>
<path d="M582.20 604.70L586.80 609.30L582.20 613.90L577.60 609.30Z" fill="#fff6f0" stroke="#e05a34" stroke-width="1.05"/>
<path d="M582.20 615.30L586.80 619.90L582.20 624.50L577.60 619.90Z" fill="#fff6f0" stroke="#e05a34" stroke-width="1.05"/>
<ellipse cx="582.2" cy="582.7" rx="4.6" ry="15.3" fill="#f0441c"/>
<path d="M582.20 567.80L586.90 572.50L582.20 577.20L577.50 572.50Z" fill="#f0441c" stroke="#ea4a20" stroke-width="0.8"/>
<path d="M582.20 570.80L586.90 575.50L582.20 580.20L577.50 575.50Z" fill="#f0441c" stroke="#ea4a20" stroke-width="0.8"/>
<path d="M582.20 573.80L586.90 578.50L582.20 583.20L577.50 578.50Z" fill="#f0441c" stroke="#ea4a20" stroke-width="0.8"/>
<path d="M582.20 576.80L586.90 581.50L582.20 586.20L577.50 581.50Z" fill="#f0441c" stroke="#ea4a20" stroke-width="0.8"/>
<path d="M582.20 579.80L586.90 584.50L582.20 589.20L577.50 584.50Z" fill="#f0441c" stroke="#ea4a20" stroke-width="0.8"/>
<path d="M582.20 582.80L586.90 587.50L582.20 592.20L577.50 587.50Z" fill="#f0441c" stroke="#ea4a20" stroke-width="0.8"/>
<path d="M582.20 585.80L586.90 590.50L582.20 595.20L577.50 590.50Z" fill="#f0441c" stroke="#ea4a20" stroke-width="0.8"/>
<path d="M582.20 588.80L586.90 593.50L582.20 598.20L577.50 593.50Z" fill="#f0441c" stroke="#ea4a20" stroke-width="0.8"/>
<line x1="536.50" y1="558.40" x2="536.50" y2="638.00" stroke="#222" stroke-width="1" />
<line x1="531.80" y1="558.50" x2="540.20" y2="558.50" stroke="#222" stroke-width="1" />
<line x1="531.80" y1="638.50" x2="540.20" y2="638.50" stroke="#222" stroke-width="1" />
<circle cx="536.00" cy="597.80" r="3.9" fill="#e2421c" stroke="#7a1e0c" stroke-width="0.9"/>
<line x1="592.50" y1="570.60" x2="592.50" y2="601.00" stroke="#222" stroke-width="1" />
<line x1="588.50" y1="570.50" x2="596.90" y2="570.50" stroke="#222" stroke-width="1" />
<line x1="588.50" y1="601.50" x2="596.90" y2="601.50" stroke="#222" stroke-width="1" />
<circle cx="592.70" cy="586.20" r="3.9" fill="#e2421c" stroke="#7a1e0c" stroke-width="0.9"/>
<circle cx="560.50" cy="395.50" r="4.9" fill="#8a3ee6" stroke="#3c1c78" stroke-width="1.15"/>
<circle cx="575.00" cy="408.00" r="4.9" fill="#8a3ee6" stroke="#3c1c78" stroke-width="1.15"/>
<circle cx="567.75" cy="425.00" r="4.9" fill="#8a3ee6" stroke="#3c1c78" stroke-width="1.15"/>
<circle cx="578.50" cy="448.25" r="4.9" fill="#8a3ee6" stroke="#3c1c78" stroke-width="1.15"/>
<circle cx="575.00" cy="445.75" r="4.9" fill="#8a3ee6" stroke="#3c1c78" stroke-width="1.15"/>
<circle cx="567.75" cy="454.50" r="4.9" fill="#8a3ee6" stroke="#3c1c78" stroke-width="1.15"/>
<circle cx="567.75" cy="461.75" r="4.9" fill="#8a3ee6" stroke="#3c1c78" stroke-width="1.15"/>
<circle cx="581.75" cy="465.00" r="4.9" fill="#8a3ee6" stroke="#3c1c78" stroke-width="1.15"/>
<circle cx="560.50" cy="483.00" r="4.9" fill="#8a3ee6" stroke="#3c1c78" stroke-width="1.15"/>
<circle cx="567.75" cy="481.75" r="4.9" fill="#8a3ee6" stroke="#3c1c78" stroke-width="1.15"/>
<circle cx="546.25" cy="494.50" r="4.9" fill="#8a3ee6" stroke="#3c1c78" stroke-width="1.15"/>
<circle cx="567.75" cy="496.75" r="4.9" fill="#8a3ee6" stroke="#3c1c78" stroke-width="1.15"/>
</g>
</svg>
</body></html>
